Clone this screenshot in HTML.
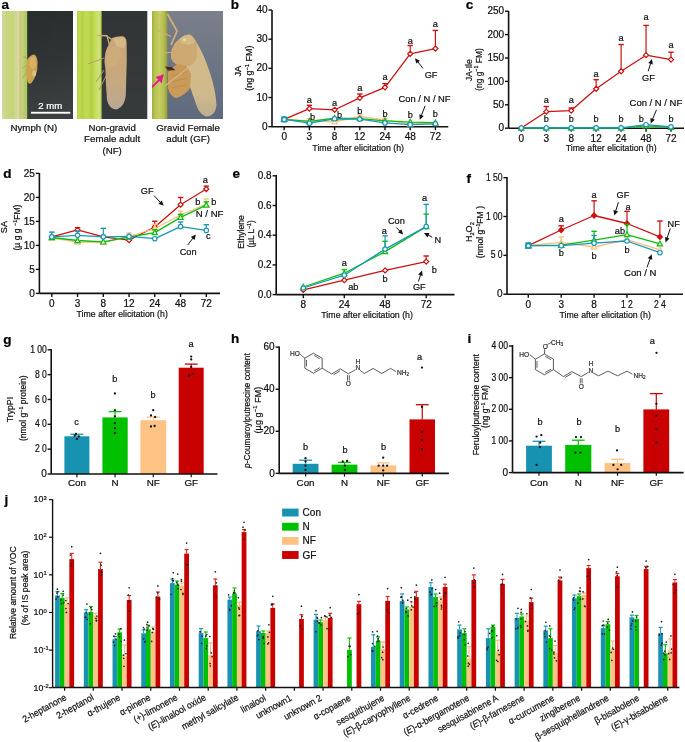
<!DOCTYPE html>
<html><head><meta charset="utf-8"><style>
html,body{margin:0;padding:0;background:#fff;width:685px;height:742px;overflow:hidden}
svg{display:block;will-change:transform}
text{font-family:"Liberation Sans", sans-serif}
</style></head><body>
<svg width="685" height="742" viewBox="0 0 685 742" font-family='"Liberation Sans", sans-serif' fill="#111">
<text x="1.5" y="9.3" font-size="13.5" font-weight="bold" fill="#000" stroke="#000" stroke-width="0.22">a</text>
<text x="230.8" y="9.1" font-size="13.5" font-weight="bold" fill="#000" stroke="#000" stroke-width="0.22">b</text>
<text x="465.8" y="9.3" font-size="13.5" font-weight="bold" fill="#000" stroke="#000" stroke-width="0.22">c</text>
<text x="3.2" y="178.1" font-size="13.5" font-weight="bold" fill="#000" stroke="#000" stroke-width="0.22">d</text>
<text x="232.4" y="177.6" font-size="13.5" font-weight="bold" fill="#000" stroke="#000" stroke-width="0.22">e</text>
<text x="466.5" y="182.6" font-size="13.5" font-weight="bold" fill="#000" stroke="#000" stroke-width="0.22">f</text>
<text x="3.2" y="344.2" font-size="13.5" font-weight="bold" fill="#000" stroke="#000" stroke-width="0.22">g</text>
<text x="231" y="343.1" font-size="13.5" font-weight="bold" fill="#000" stroke="#000" stroke-width="0.22">h</text>
<text x="467.6" y="342.6" font-size="13.5" font-weight="bold" fill="#000" stroke="#000" stroke-width="0.22">i</text>
<text x="4.6" y="504.2" font-size="13.5" font-weight="bold" fill="#000" stroke="#000" stroke-width="0.22">j</text>
<defs>
<linearGradient id="st1" x1="0" x2="1" y1="0" y2="0">
<stop offset="0" stop-color="#d2d9a2"/><stop offset="0.2" stop-color="#c9d67a"/><stop offset="0.45" stop-color="#c6d47c"/>
<stop offset="0.66" stop-color="#d8daa4"/><stop offset="0.72" stop-color="#d6bc74"/><stop offset="0.78" stop-color="#c6d284"/>
<stop offset="0.9" stop-color="#b2cc66"/><stop offset="1" stop-color="#a9c85c"/></linearGradient>
<linearGradient id="bg1" x1="0" x2="0.15" y1="0" y2="1">
<stop offset="0" stop-color="#292c2c"/><stop offset="0.5" stop-color="#303333"/><stop offset="1" stop-color="#3c3f3f"/></linearGradient>
<linearGradient id="st2" x1="0" x2="1" y1="0" y2="0">
<stop offset="0" stop-color="#b4d23e"/><stop offset="0.12" stop-color="#c2dc50"/><stop offset="0.2" stop-color="#b2ce42"/>
<stop offset="0.35" stop-color="#c4dc54"/><stop offset="0.5" stop-color="#bcd84c"/><stop offset="0.58" stop-color="#b2ce44"/>
<stop offset="0.75" stop-color="#c6de58"/><stop offset="0.9" stop-color="#cfe27e"/><stop offset="1" stop-color="#b8d44c"/></linearGradient>
<linearGradient id="bg2" x1="0" x2="0" y1="0" y2="1">
<stop offset="0" stop-color="#323535"/><stop offset="1" stop-color="#383b3b"/></linearGradient>
<linearGradient id="st3" x1="0" x2="1" y1="0" y2="0">
<stop offset="0" stop-color="#9fae3a"/><stop offset="0.2" stop-color="#b8c450"/><stop offset="0.5" stop-color="#c6cc64"/>
<stop offset="0.8" stop-color="#b2bc4a"/><stop offset="1" stop-color="#8d9840"/></linearGradient>
<linearGradient id="bg3" x1="0" x2="0" y1="0" y2="1">
<stop offset="0" stop-color="#7b8089"/><stop offset="0.5" stop-color="#6d7585"/><stop offset="1" stop-color="#5f6a7f"/></linearGradient>
<linearGradient id="wing2" x1="0" x2="0" y1="0" y2="1">
<stop offset="0" stop-color="#c9a676"/><stop offset="0.6" stop-color="#c8a87e"/><stop offset="1" stop-color="#b9a896"/></linearGradient>
<linearGradient id="wing3" x1="0" x2="0" y1="0" y2="1">
<stop offset="0" stop-color="#d6bb86"/><stop offset="0.7" stop-color="#d0b98c"/><stop offset="1" stop-color="#bcae90"/></linearGradient>
<clipPath id="cp1"><rect x="2" y="11" width="71" height="108"/></clipPath>
<clipPath id="cp2"><rect x="77" y="11" width="70.3" height="108"/></clipPath>
<clipPath id="cp3"><rect x="152" y="11" width="71" height="108"/></clipPath>
</defs>
<g clip-path="url(#cp1)">
<rect x="2" y="11" width="71" height="108" fill="url(#bg1)"/>
<rect x="2" y="11" width="25.2" height="108" fill="url(#st1)"/>
<line x1="27" y1="58" x2="23.5" y2="56.5" stroke="#c09850" stroke-width="0.9"/>
<line x1="26.5" y1="65" x2="22" y2="68.5" stroke="#c09850" stroke-width="0.9"/>
<line x1="27" y1="72" x2="22.5" y2="78" stroke="#c09850" stroke-width="0.9"/>
<path d="M27,60 Q30,55 34,54.5 Q37.2,56 37.6,62 L37.2,70 Q35.5,78 31.5,83 Q28.8,84.8 27.6,82 L26.2,74 L26.2,66 Z" fill="#cea24f"/>
<path d="M30,58 Q33,56 35.5,58 L36,66 L33,70 L29.5,66 Z" fill="#d8b266"/>
<ellipse cx="34.2" cy="73.5" rx="1.8" ry="3" fill="#e2c996" opacity="0.8"/>
<rect x="31" y="111.8" width="39.3" height="1.9" fill="#ffffff"/>
<text x="50.3" y="109.4" font-size="9.6" text-anchor="middle" fill="#ffffff" stroke="#ffffff" stroke-width="0.22">2 mm</text>
</g>
<g clip-path="url(#cp2)">
<rect x="77" y="11" width="71" height="108" fill="url(#bg2)"/>
<rect x="77" y="11" width="24.6" height="108" fill="url(#st2)"/>
<line x1="104" y1="58" x2="88" y2="64" stroke="#b8986c" stroke-width="0.9"/>
<line x1="104" y1="70" x2="96" y2="82" stroke="#b8986c" stroke-width="1"/>
<line x1="106" y1="76" x2="99" y2="90" stroke="#b8986c" stroke-width="1"/>
<path d="M112,38 Q117,35.8 123,36.3 Q126.6,37.6 126.6,43 L126.8,60 L126.2,80 L125.8,95 Q125,106 117,109.5 Q109,109.5 107,100 L106,85 L105.5,70 L104.5,62 Q104.5,52 108,46 Z" fill="url(#wing2)"/>
<path d="M113,38.5 Q118,36.5 123,37 Q126,38.5 125.8,44 L124,48 L117,47 Z" fill="#d6b887"/>
<path d="M107,50 L116,46 L122,52 L118,64 L109,68 L106,60 Z" fill="#d0ac7c" opacity="0.8"/>
<polyline points="97.5,35.5 107,35.8 109.5,45" fill="none" stroke="#c8a878" stroke-width="1.4"/>
<line x1="107.5" y1="36.5" x2="114" y2="41" stroke="#c8a878" stroke-width="1.3"/>
</g>
<g clip-path="url(#cp3)">
<rect x="152" y="11" width="71" height="108" fill="url(#bg3)"/>
<rect x="152" y="11" width="15.4" height="108" fill="url(#st3)"/>
<polyline points="167.5,14 177,31 171,45" fill="none" stroke="#cfae78" stroke-width="1.8"/>
<line x1="157" y1="30" x2="171" y2="36.5" stroke="#cfae78" stroke-width="1.3"/>
<line x1="164" y1="53" x2="174" y2="52" stroke="#cfae78" stroke-width="1.2"/>
<path d="M187,46 L195,40 Q203,52 209,70 Q216,90 216.5,106 Q214.5,116.8 206,116.6 Q199,114 196,104 L189,84 L185,60 Z" fill="url(#wing3)"/>
<path d="M171,52 Q173,43 180,38.5 Q185,33.8 190,34.6 Q195,37 196.5,44 L197.5,55 Q196,62 191,65.5 L180,66.5 Q173,63.5 171,58 Z" fill="#ccaa72"/>
<path d="M180,38.5 Q185,34.2 190,35 Q194,37.5 194.5,43 L188,45 L181,43 Z" fill="#d6b985"/>
<ellipse cx="184.5" cy="39.8" rx="1.6" ry="1.2" fill="#e8dcc0"/>
<path d="M168,72 Q172,66 180,64 Q188,66 191,74 L190,88 Q186,95 176,98.3 Q170,96 168,88 Z" fill="#c99a58"/>
<path d="M172,76 L186,72 M171,82 L188,78 M172,88 L186,85" stroke="#b88a4a" stroke-width="0.7" fill="none"/>
<line x1="165" y1="86" x2="188" y2="68" stroke="#d4b483" stroke-width="1.5"/>
<polygon points="165,66.5 172,67.3 175.4,70.2 168,70.4" fill="#4a2a1e"/>
<polygon points="163.9,74.2 155.8,77 161.6,83.6" fill="#e8198c"/>
<line x1="151.5" y1="87.5" x2="159.2" y2="80" stroke="#e8198c" stroke-width="1.8"/>
</g>
<text x="33.9" y="130.7" font-size="9.7" text-anchor="middle" stroke="#111" stroke-width="0.22">Nymph (N)</text>
<text x="112.1" y="130.7" font-size="9.7" text-anchor="middle" stroke="#111" stroke-width="0.22">Non-gravid</text>
<text x="112.1" y="142.2" font-size="9.7" text-anchor="middle" stroke="#111" stroke-width="0.22">Female adult</text>
<text x="112.1" y="153.6" font-size="9.7" text-anchor="middle" stroke="#111" stroke-width="0.22">(NF)</text>
<text x="188.1" y="130.7" font-size="9.7" text-anchor="middle" stroke="#111" stroke-width="0.22">Gravid Female</text>
<text x="188.1" y="142.2" font-size="9.7" text-anchor="middle" stroke="#111" stroke-width="0.22">adult (GF)</text>
<line x1="272" y1="10" x2="272" y2="126.7" stroke="#111" stroke-width="1.6"/>
<line x1="268.4" y1="126.7" x2="272" y2="126.7" stroke="#111" stroke-width="1.4"/>
<text x="267.5" y="129.8" font-size="10" text-anchor="end" stroke="#111" stroke-width="0.22">0</text>
<line x1="268.4" y1="97.53" x2="272" y2="97.53" stroke="#111" stroke-width="1.4"/>
<text x="267.5" y="100.63" font-size="10" text-anchor="end" stroke="#111" stroke-width="0.22">10</text>
<line x1="268.4" y1="68.36" x2="272" y2="68.36" stroke="#111" stroke-width="1.4"/>
<text x="267.5" y="71.46" font-size="10" text-anchor="end" stroke="#111" stroke-width="0.22">20</text>
<line x1="268.4" y1="39.19" x2="272" y2="39.19" stroke="#111" stroke-width="1.4"/>
<text x="267.5" y="42.29" font-size="10" text-anchor="end" stroke="#111" stroke-width="0.22">30</text>
<line x1="268.4" y1="10.02" x2="272" y2="10.02" stroke="#111" stroke-width="1.4"/>
<text x="267.5" y="13.12" font-size="10" text-anchor="end" stroke="#111" stroke-width="0.22">40</text>
<line x1="272" y1="126.7" x2="448.3" y2="126.7" stroke="#111" stroke-width="1.6"/>
<line x1="284.2" y1="126.7" x2="284.2" y2="130.3" stroke="#111" stroke-width="1.4"/>
<text x="284.2" y="140" font-size="10" text-anchor="middle" stroke="#111" stroke-width="0.22">0</text>
<line x1="309.4" y1="126.7" x2="309.4" y2="130.3" stroke="#111" stroke-width="1.4"/>
<text x="309.4" y="140" font-size="10" text-anchor="middle" stroke="#111" stroke-width="0.22">3</text>
<line x1="334.6" y1="126.7" x2="334.6" y2="130.3" stroke="#111" stroke-width="1.4"/>
<text x="334.6" y="140" font-size="10" text-anchor="middle" stroke="#111" stroke-width="0.22">8</text>
<line x1="359.8" y1="126.7" x2="359.8" y2="130.3" stroke="#111" stroke-width="1.4"/>
<text x="359.8" y="140" font-size="10" text-anchor="middle" stroke="#111" stroke-width="0.22">12</text>
<line x1="385" y1="126.7" x2="385" y2="130.3" stroke="#111" stroke-width="1.4"/>
<text x="385" y="140" font-size="10" text-anchor="middle" stroke="#111" stroke-width="0.22">24</text>
<line x1="410.2" y1="126.7" x2="410.2" y2="130.3" stroke="#111" stroke-width="1.4"/>
<text x="410.2" y="140" font-size="10" text-anchor="middle" stroke="#111" stroke-width="0.22">48</text>
<line x1="435.4" y1="126.7" x2="435.4" y2="130.3" stroke="#111" stroke-width="1.4"/>
<text x="435.4" y="140" font-size="10" text-anchor="middle" stroke="#111" stroke-width="0.22">72</text>
<text x="358.2" y="150.6" font-size="9.6" text-anchor="middle" stroke="#111" stroke-width="0.22" textLength="91.7" lengthAdjust="spacingAndGlyphs">Time after elicitation (h)</text>
<polyline points="284.2,119.41 309.4,108.61 334.6,109.78 359.8,97.82 385,87.32 410.2,53.78 435.4,48.52" stroke="#cc1111" fill="none" stroke-width="1.3" stroke-linejoin="round"/>
<line x1="309.4" y1="108.61" x2="309.4" y2="105.3" stroke="#cc1111" stroke-width="1.2"/>
<line x1="306.7" y1="105.3" x2="312.1" y2="105.3" stroke="#cc1111" stroke-width="1.4"/>
<line x1="359.8" y1="97.82" x2="359.8" y2="94" stroke="#cc1111" stroke-width="1.2"/>
<line x1="357.1" y1="94" x2="362.5" y2="94" stroke="#cc1111" stroke-width="1.4"/>
<line x1="385" y1="87.32" x2="385" y2="83.6" stroke="#cc1111" stroke-width="1.2"/>
<line x1="382.3" y1="83.6" x2="387.7" y2="83.6" stroke="#cc1111" stroke-width="1.4"/>
<line x1="410.2" y1="53.78" x2="410.2" y2="45.5" stroke="#cc1111" stroke-width="1.2"/>
<line x1="407.5" y1="45.5" x2="412.9" y2="45.5" stroke="#cc1111" stroke-width="1.4"/>
<line x1="435.4" y1="48.52" x2="435.4" y2="30.4" stroke="#cc1111" stroke-width="1.2"/>
<line x1="432.7" y1="30.4" x2="438.1" y2="30.4" stroke="#cc1111" stroke-width="1.4"/>
<polygon points="284.2,116.88 286.73,119.41 284.2,121.94 281.67,119.41" fill="#fff" stroke="#cc1111" stroke-width="1.2"/>
<polygon points="309.4,106.08 311.93,108.61 309.4,111.14 306.87,108.61" fill="#fff" stroke="#cc1111" stroke-width="1.2"/>
<polygon points="334.6,107.25 337.13,109.78 334.6,112.31 332.07,109.78" fill="#fff" stroke="#cc1111" stroke-width="1.2"/>
<polygon points="359.8,95.29 362.33,97.82 359.8,100.35 357.27,97.82" fill="#fff" stroke="#cc1111" stroke-width="1.2"/>
<polygon points="385,84.79 387.53,87.32 385,89.85 382.47,87.32" fill="#fff" stroke="#cc1111" stroke-width="1.2"/>
<polygon points="410.2,51.25 412.73,53.78 410.2,56.31 407.67,53.78" fill="#fff" stroke="#cc1111" stroke-width="1.2"/>
<polygon points="435.4,45.99 437.93,48.52 435.4,51.05 432.87,48.52" fill="#fff" stroke="#cc1111" stroke-width="1.2"/>
<polyline points="284.2,119.41 309.4,120.87 334.6,121.74 359.8,116.49 385,119.99 410.2,123.78 435.4,123.2" stroke="#fdbf85" fill="none" stroke-width="1.3" stroke-linejoin="round"/>
<line x1="309.4" y1="120.87" x2="309.4" y2="118.53" stroke="#fdbf85" stroke-width="1.2"/>
<line x1="306.7" y1="118.53" x2="312.1" y2="118.53" stroke="#fdbf85" stroke-width="1.4"/>
<line x1="359.8" y1="116.49" x2="359.8" y2="114.45" stroke="#fdbf85" stroke-width="1.2"/>
<line x1="357.1" y1="114.45" x2="362.5" y2="114.45" stroke="#fdbf85" stroke-width="1.4"/>
<line x1="385" y1="119.99" x2="385" y2="118.24" stroke="#fdbf85" stroke-width="1.2"/>
<line x1="382.3" y1="118.24" x2="387.7" y2="118.24" stroke="#fdbf85" stroke-width="1.4"/>
<polygon points="284.2,116.77 286.84,121.52 281.56,121.52" fill="#fff" stroke="#fdbf85" stroke-width="1.2"/>
<polygon points="309.4,118.23 312.04,122.98 306.76,122.98" fill="#fff" stroke="#fdbf85" stroke-width="1.2"/>
<polygon points="334.6,119.1 337.24,123.85 331.96,123.85" fill="#fff" stroke="#fdbf85" stroke-width="1.2"/>
<polygon points="359.8,113.85 362.44,118.6 357.16,118.6" fill="#fff" stroke="#fdbf85" stroke-width="1.2"/>
<polygon points="385,117.35 387.64,122.1 382.36,122.1" fill="#fff" stroke="#fdbf85" stroke-width="1.2"/>
<polygon points="410.2,121.14 412.84,125.89 407.56,125.89" fill="#fff" stroke="#fdbf85" stroke-width="1.2"/>
<polygon points="435.4,120.56 438.04,125.31 432.76,125.31" fill="#fff" stroke="#fdbf85" stroke-width="1.2"/>
<polyline points="284.2,119.41 309.4,121.45 334.6,118.24 359.8,118.53 385,120.87 410.2,122.03 435.4,122.62" stroke="#0cbf0c" fill="none" stroke-width="1.3" stroke-linejoin="round"/>
<polygon points="284.2,116.77 286.84,121.52 281.56,121.52" fill="#fff" stroke="#0cbf0c" stroke-width="1.2"/>
<polygon points="309.4,118.81 312.04,123.56 306.76,123.56" fill="#fff" stroke="#0cbf0c" stroke-width="1.2"/>
<polygon points="334.6,115.6 337.24,120.35 331.96,120.35" fill="#fff" stroke="#0cbf0c" stroke-width="1.2"/>
<polygon points="359.8,115.89 362.44,120.64 357.16,120.64" fill="#fff" stroke="#0cbf0c" stroke-width="1.2"/>
<polygon points="385,118.23 387.64,122.98 382.36,122.98" fill="#fff" stroke="#0cbf0c" stroke-width="1.2"/>
<polygon points="410.2,119.39 412.84,124.14 407.56,124.14" fill="#fff" stroke="#0cbf0c" stroke-width="1.2"/>
<polygon points="435.4,119.98 438.04,124.73 432.76,124.73" fill="#fff" stroke="#0cbf0c" stroke-width="1.2"/>
<polyline points="284.2,119.41 309.4,123.2 334.6,118.82 359.8,119.12 385,122.91 410.2,124.66 435.4,123.78" stroke="#1b97b6" fill="none" stroke-width="1.3" stroke-linejoin="round"/>
<circle cx="284.2" cy="119.41" r="2.2" fill="#fff" stroke="#1b97b6" stroke-width="1.2"/>
<circle cx="309.4" cy="123.2" r="2.2" fill="#fff" stroke="#1b97b6" stroke-width="1.2"/>
<circle cx="334.6" cy="118.82" r="2.2" fill="#fff" stroke="#1b97b6" stroke-width="1.2"/>
<circle cx="359.8" cy="119.12" r="2.2" fill="#fff" stroke="#1b97b6" stroke-width="1.2"/>
<circle cx="385" cy="122.91" r="2.2" fill="#fff" stroke="#1b97b6" stroke-width="1.2"/>
<circle cx="410.2" cy="124.66" r="2.2" fill="#fff" stroke="#1b97b6" stroke-width="1.2"/>
<circle cx="435.4" cy="123.78" r="2.2" fill="#fff" stroke="#1b97b6" stroke-width="1.2"/>
<rect x="281.2" y="116.41" width="6" height="6" fill="#1b97b6"/>
<circle cx="284.2" cy="119.4075" r="1.5" fill="#fff"/>
<text x="309.4" y="103.1" font-size="9.2" text-anchor="middle" stroke="#111" stroke-width="0.22">a</text>
<text x="334.6" y="106.4" font-size="9.2" text-anchor="middle" stroke="#111" stroke-width="0.22">a</text>
<text x="359.8" y="90.5" font-size="9.2" text-anchor="middle" stroke="#111" stroke-width="0.22">a</text>
<text x="385" y="79.6" font-size="9.2" text-anchor="middle" stroke="#111" stroke-width="0.22">a</text>
<text x="410.2" y="43.9" font-size="9.2" text-anchor="middle" stroke="#111" stroke-width="0.22">a</text>
<text x="435.4" y="27.2" font-size="9.2" text-anchor="middle" stroke="#111" stroke-width="0.22">a</text>
<text x="312.6" y="119.9" font-size="9.2" text-anchor="middle" stroke="#111" stroke-width="0.22">b</text>
<text x="339.6" y="118" font-size="9.2" text-anchor="middle" stroke="#111" stroke-width="0.22">b</text>
<text x="359.8" y="113.8" font-size="9.2" text-anchor="middle" stroke="#111" stroke-width="0.22">b</text>
<text x="385" y="117" font-size="9.2" text-anchor="middle" stroke="#111" stroke-width="0.22">b</text>
<text x="410.2" y="117.5" font-size="9.2" text-anchor="middle" stroke="#111" stroke-width="0.22">b</text>
<text x="435.4" y="117" font-size="9.2" text-anchor="middle" stroke="#111" stroke-width="0.22">b</text>
<text x="424.7" y="77.9" font-size="9.2" stroke="#111" stroke-width="0.22">GF</text>
<line x1="423" y1="68.4" x2="417.78" y2="61.74" stroke="#111" stroke-width="1"/>
<polygon points="415,58.2 419.97,60.65 416.2,63.62" fill="#111"/>
<text x="398.6" y="102.1" font-size="9.2" stroke="#111" stroke-width="0.22" textLength="52" lengthAdjust="spacingAndGlyphs">Con / N / NF</text>
<line x1="425.1" y1="105.8" x2="421.4" y2="115.5" stroke="#111" stroke-width="1"/>
<polygon points="419.8,119.7 419.34,114.17 423.82,115.88" fill="#111"/>
<text x="240.8" y="71.2" font-size="8.6" text-anchor="middle" stroke="#111" stroke-width="0.22" transform="rotate(-90 240.8 71.2)" textLength="10.8" lengthAdjust="spacingAndGlyphs">JA</text>
<text x="252.1" y="68.2" font-size="9" text-anchor="middle" stroke="#111" stroke-width="0.22" transform="rotate(-90 252.1 68.2)" textLength="45.2" lengthAdjust="spacingAndGlyphs">(ng g<tspan dy="-3.4" font-size="5.8">−1</tspan><tspan dy="3.4"> FM)</tspan></text>
<line x1="508.6" y1="11" x2="508.6" y2="128.2" stroke="#111" stroke-width="1.6"/>
<line x1="505" y1="128.2" x2="508.6" y2="128.2" stroke="#111" stroke-width="1.4"/>
<text x="504.1" y="131.3" font-size="10" text-anchor="end" stroke="#111" stroke-width="0.22">0</text>
<line x1="505" y1="104.8" x2="508.6" y2="104.8" stroke="#111" stroke-width="1.4"/>
<text x="504.1" y="107.9" font-size="10" text-anchor="end" stroke="#111" stroke-width="0.22">50</text>
<line x1="505" y1="81.4" x2="508.6" y2="81.4" stroke="#111" stroke-width="1.4"/>
<text x="504.1" y="84.5" font-size="10" text-anchor="end" stroke="#111" stroke-width="0.22">100</text>
<line x1="505" y1="58" x2="508.6" y2="58" stroke="#111" stroke-width="1.4"/>
<text x="504.1" y="61.1" font-size="10" text-anchor="end" stroke="#111" stroke-width="0.22">150</text>
<line x1="505" y1="34.6" x2="508.6" y2="34.6" stroke="#111" stroke-width="1.4"/>
<text x="504.1" y="37.7" font-size="10" text-anchor="end" stroke="#111" stroke-width="0.22">200</text>
<line x1="505" y1="11.2" x2="508.6" y2="11.2" stroke="#111" stroke-width="1.4"/>
<text x="504.1" y="14.3" font-size="10" text-anchor="end" stroke="#111" stroke-width="0.22">250</text>
<line x1="508.6" y1="128.2" x2="684" y2="128.2" stroke="#111" stroke-width="1.6"/>
<line x1="521.3" y1="128.2" x2="521.3" y2="131.8" stroke="#111" stroke-width="1.4"/>
<text x="521.3" y="141.5" font-size="10" text-anchor="middle" stroke="#111" stroke-width="0.22">0</text>
<line x1="546.25" y1="128.2" x2="546.25" y2="131.8" stroke="#111" stroke-width="1.4"/>
<text x="546.25" y="141.5" font-size="10" text-anchor="middle" stroke="#111" stroke-width="0.22">3</text>
<line x1="571.2" y1="128.2" x2="571.2" y2="131.8" stroke="#111" stroke-width="1.4"/>
<text x="571.2" y="141.5" font-size="10" text-anchor="middle" stroke="#111" stroke-width="0.22">8</text>
<line x1="596.15" y1="128.2" x2="596.15" y2="131.8" stroke="#111" stroke-width="1.4"/>
<text x="596.15" y="141.5" font-size="10" text-anchor="middle" stroke="#111" stroke-width="0.22">12</text>
<line x1="621.1" y1="128.2" x2="621.1" y2="131.8" stroke="#111" stroke-width="1.4"/>
<text x="621.1" y="141.5" font-size="10" text-anchor="middle" stroke="#111" stroke-width="0.22">24</text>
<line x1="646.05" y1="128.2" x2="646.05" y2="131.8" stroke="#111" stroke-width="1.4"/>
<text x="646.05" y="141.5" font-size="10" text-anchor="middle" stroke="#111" stroke-width="0.22">48</text>
<line x1="671" y1="128.2" x2="671" y2="131.8" stroke="#111" stroke-width="1.4"/>
<text x="671" y="141.5" font-size="10" text-anchor="middle" stroke="#111" stroke-width="0.22">72</text>
<text x="611.2" y="150.7" font-size="9.6" text-anchor="middle" stroke="#111" stroke-width="0.22" textLength="90.7" lengthAdjust="spacingAndGlyphs">Time after elicitation (h)</text>
<polyline points="521.3,128.01 546.25,111.68 571.2,110.6 596.15,88.79 621.1,71.29 646.05,55.19 671,59.59" stroke="#cc1111" fill="none" stroke-width="1.3" stroke-linejoin="round"/>
<line x1="546.25" y1="111.68" x2="546.25" y2="106.5" stroke="#cc1111" stroke-width="1.2"/>
<line x1="543.55" y1="106.5" x2="548.95" y2="106.5" stroke="#cc1111" stroke-width="1.4"/>
<line x1="571.2" y1="110.6" x2="571.2" y2="108" stroke="#cc1111" stroke-width="1.2"/>
<line x1="568.5" y1="108" x2="573.9" y2="108" stroke="#cc1111" stroke-width="1.4"/>
<line x1="596.15" y1="88.79" x2="596.15" y2="79.7" stroke="#cc1111" stroke-width="1.2"/>
<line x1="593.45" y1="79.7" x2="598.85" y2="79.7" stroke="#cc1111" stroke-width="1.4"/>
<line x1="621.1" y1="71.29" x2="621.1" y2="44.5" stroke="#cc1111" stroke-width="1.2"/>
<line x1="618.4" y1="44.5" x2="623.8" y2="44.5" stroke="#cc1111" stroke-width="1.4"/>
<line x1="646.05" y1="55.19" x2="646.05" y2="25.4" stroke="#cc1111" stroke-width="1.2"/>
<line x1="643.35" y1="25.4" x2="648.75" y2="25.4" stroke="#cc1111" stroke-width="1.4"/>
<line x1="671" y1="59.59" x2="671" y2="52.2" stroke="#cc1111" stroke-width="1.2"/>
<line x1="668.3" y1="52.2" x2="673.7" y2="52.2" stroke="#cc1111" stroke-width="1.4"/>
<polygon points="521.3,125.48 523.83,128.01 521.3,130.54 518.77,128.01" fill="#fff" stroke="#cc1111" stroke-width="1.2"/>
<polygon points="546.25,109.15 548.78,111.68 546.25,114.21 543.72,111.68" fill="#fff" stroke="#cc1111" stroke-width="1.2"/>
<polygon points="571.2,108.07 573.73,110.6 571.2,113.13 568.67,110.6" fill="#fff" stroke="#cc1111" stroke-width="1.2"/>
<polygon points="596.15,86.26 598.68,88.79 596.15,91.32 593.62,88.79" fill="#fff" stroke="#cc1111" stroke-width="1.2"/>
<polygon points="621.1,68.76 623.63,71.29 621.1,73.82 618.57,71.29" fill="#fff" stroke="#cc1111" stroke-width="1.2"/>
<polygon points="646.05,52.66 648.58,55.19 646.05,57.72 643.52,55.19" fill="#fff" stroke="#cc1111" stroke-width="1.2"/>
<polygon points="671,57.06 673.53,59.59 671,62.12 668.47,59.59" fill="#fff" stroke="#cc1111" stroke-width="1.2"/>
<polyline points="521.3,128.06 546.25,128.06 571.2,128.06 596.15,128.06 621.1,128.06 646.05,125.86 671,127.26" stroke="#0cbf0c" fill="none" stroke-width="1.3" stroke-linejoin="round"/>
<polygon points="521.3,125.42 523.94,130.17 518.66,130.17" fill="#fff" stroke="#0cbf0c" stroke-width="1.2"/>
<polygon points="546.25,125.42 548.89,130.17 543.61,130.17" fill="#fff" stroke="#0cbf0c" stroke-width="1.2"/>
<polygon points="571.2,125.42 573.84,130.17 568.56,130.17" fill="#fff" stroke="#0cbf0c" stroke-width="1.2"/>
<polygon points="596.15,125.42 598.79,130.17 593.51,130.17" fill="#fff" stroke="#0cbf0c" stroke-width="1.2"/>
<polygon points="621.1,125.42 623.74,130.17 618.46,130.17" fill="#fff" stroke="#0cbf0c" stroke-width="1.2"/>
<polygon points="646.05,123.22 648.69,127.97 643.41,127.97" fill="#fff" stroke="#0cbf0c" stroke-width="1.2"/>
<polygon points="671,124.62 673.64,129.38 668.36,129.38" fill="#fff" stroke="#0cbf0c" stroke-width="1.2"/>
<polyline points="521.3,127.97 546.25,127.97 571.2,127.73 596.15,127.83 621.1,127.83 646.05,124.69 671,126.8" stroke="#1b97b6" fill="none" stroke-width="1.3" stroke-linejoin="round"/>
<circle cx="521.3" cy="127.97" r="2.2" fill="#fff" stroke="#1b97b6" stroke-width="1.2"/>
<circle cx="546.25" cy="127.97" r="2.2" fill="#fff" stroke="#1b97b6" stroke-width="1.2"/>
<circle cx="571.2" cy="127.73" r="2.2" fill="#fff" stroke="#1b97b6" stroke-width="1.2"/>
<circle cx="596.15" cy="127.83" r="2.2" fill="#fff" stroke="#1b97b6" stroke-width="1.2"/>
<circle cx="621.1" cy="127.83" r="2.2" fill="#fff" stroke="#1b97b6" stroke-width="1.2"/>
<circle cx="646.05" cy="124.69" r="2.2" fill="#fff" stroke="#1b97b6" stroke-width="1.2"/>
<circle cx="671" cy="126.8" r="2.2" fill="#fff" stroke="#1b97b6" stroke-width="1.2"/>
<text x="546.25" y="102.8" font-size="9.2" text-anchor="middle" stroke="#111" stroke-width="0.22">a</text>
<text x="571.2" y="102.8" font-size="9.2" text-anchor="middle" stroke="#111" stroke-width="0.22">a</text>
<text x="596.15" y="76.6" font-size="9.2" text-anchor="middle" stroke="#111" stroke-width="0.22">a</text>
<text x="621.1" y="41.2" font-size="9.2" text-anchor="middle" stroke="#111" stroke-width="0.22">a</text>
<text x="646.05" y="19.6" font-size="9.2" text-anchor="middle" stroke="#111" stroke-width="0.22">a</text>
<text x="671" y="48.2" font-size="9.2" text-anchor="middle" stroke="#111" stroke-width="0.22">a</text>
<text x="546.25" y="122.1" font-size="9.2" text-anchor="middle" stroke="#111" stroke-width="0.22">b</text>
<text x="571.2" y="122.1" font-size="9.2" text-anchor="middle" stroke="#111" stroke-width="0.22">b</text>
<text x="596.15" y="121.8" font-size="9.2" text-anchor="middle" stroke="#111" stroke-width="0.22">b</text>
<text x="621.1" y="121.6" font-size="9.2" text-anchor="middle" stroke="#111" stroke-width="0.22">b</text>
<text x="641.2" y="121.6" font-size="9.2" text-anchor="middle" stroke="#111" stroke-width="0.22">b</text>
<text x="671" y="121.6" font-size="9.2" text-anchor="middle" stroke="#111" stroke-width="0.22">b</text>
<text x="642" y="81" font-size="9.2" stroke="#111" stroke-width="0.22">GF</text>
<line x1="648.2" y1="71.3" x2="650.67" y2="63.3" stroke="#111" stroke-width="1"/>
<polygon points="652,59 652.82,64.49 648.23,63.07" fill="#111"/>
<text x="629.6" y="106.3" font-size="9.2" stroke="#111" stroke-width="0.22" textLength="52.6" lengthAdjust="spacingAndGlyphs">Con / N / NF</text>
<line x1="656.5" y1="109.8" x2="652.45" y2="119.36" stroke="#111" stroke-width="1"/>
<polygon points="650.7,123.5 650.44,117.96 654.86,119.83" fill="#111"/>
<text x="472.3" y="70.2" font-size="9.2" text-anchor="middle" stroke="#111" stroke-width="0.22" transform="rotate(-90 472.3 70.2)" textLength="22.2" lengthAdjust="spacingAndGlyphs">JA-Ile</text>
<text x="481.8" y="69.55" font-size="9" text-anchor="middle" stroke="#111" stroke-width="0.22" transform="rotate(-90 481.8 69.55)" textLength="42.5" lengthAdjust="spacingAndGlyphs">(ng g<tspan dy="-3.4" font-size="5.8">−1</tspan><tspan dy="3.4"> FM)</tspan></text>
<line x1="39.4" y1="173" x2="39.4" y2="293.4" stroke="#111" stroke-width="1.6"/>
<line x1="35.8" y1="293.4" x2="39.4" y2="293.4" stroke="#111" stroke-width="1.4"/>
<text x="34.9" y="296.5" font-size="10" text-anchor="end" stroke="#111" stroke-width="0.22">0</text>
<line x1="35.8" y1="269.4" x2="39.4" y2="269.4" stroke="#111" stroke-width="1.4"/>
<text x="34.9" y="272.5" font-size="10" text-anchor="end" stroke="#111" stroke-width="0.22">5</text>
<line x1="35.8" y1="245.4" x2="39.4" y2="245.4" stroke="#111" stroke-width="1.4"/>
<text x="34.9" y="248.5" font-size="10" text-anchor="end" stroke="#111" stroke-width="0.22">10</text>
<line x1="35.8" y1="221.4" x2="39.4" y2="221.4" stroke="#111" stroke-width="1.4"/>
<text x="34.9" y="224.5" font-size="10" text-anchor="end" stroke="#111" stroke-width="0.22">15</text>
<line x1="35.8" y1="197.4" x2="39.4" y2="197.4" stroke="#111" stroke-width="1.4"/>
<text x="34.9" y="200.5" font-size="10" text-anchor="end" stroke="#111" stroke-width="0.22">20</text>
<line x1="35.8" y1="173.4" x2="39.4" y2="173.4" stroke="#111" stroke-width="1.4"/>
<text x="34.9" y="176.5" font-size="10" text-anchor="end" stroke="#111" stroke-width="0.22">25</text>
<line x1="39.4" y1="293.4" x2="220" y2="293.4" stroke="#111" stroke-width="1.6"/>
<line x1="51.8" y1="293.4" x2="51.8" y2="297" stroke="#111" stroke-width="1.4"/>
<text x="51.8" y="306.7" font-size="10" text-anchor="middle" stroke="#111" stroke-width="0.22">0</text>
<line x1="77.55" y1="293.4" x2="77.55" y2="297" stroke="#111" stroke-width="1.4"/>
<text x="77.55" y="306.7" font-size="10" text-anchor="middle" stroke="#111" stroke-width="0.22">3</text>
<line x1="103.3" y1="293.4" x2="103.3" y2="297" stroke="#111" stroke-width="1.4"/>
<text x="103.3" y="306.7" font-size="10" text-anchor="middle" stroke="#111" stroke-width="0.22">8</text>
<line x1="129.05" y1="293.4" x2="129.05" y2="297" stroke="#111" stroke-width="1.4"/>
<text x="129.05" y="306.7" font-size="10" text-anchor="middle" stroke="#111" stroke-width="0.22">12</text>
<line x1="154.8" y1="293.4" x2="154.8" y2="297" stroke="#111" stroke-width="1.4"/>
<text x="154.8" y="306.7" font-size="10" text-anchor="middle" stroke="#111" stroke-width="0.22">24</text>
<line x1="180.55" y1="293.4" x2="180.55" y2="297" stroke="#111" stroke-width="1.4"/>
<text x="180.55" y="306.7" font-size="10" text-anchor="middle" stroke="#111" stroke-width="0.22">48</text>
<line x1="206.3" y1="293.4" x2="206.3" y2="297" stroke="#111" stroke-width="1.4"/>
<text x="206.3" y="306.7" font-size="10" text-anchor="middle" stroke="#111" stroke-width="0.22">72</text>
<text x="122.2" y="316.9" font-size="9.6" text-anchor="middle" stroke="#111" stroke-width="0.22" textLength="91.3" lengthAdjust="spacingAndGlyphs">Time after elicitation (h)</text>
<polyline points="51.8,236.8 77.55,229.9 103.3,236.8 129.05,240.2 154.8,227 180.55,204.7 206.3,189" stroke="#cc1111" fill="none" stroke-width="1.3" stroke-linejoin="round"/>
<line x1="77.55" y1="229.9" x2="77.55" y2="227.7" stroke="#cc1111" stroke-width="1.2"/>
<line x1="74.85" y1="227.7" x2="80.25" y2="227.7" stroke="#cc1111" stroke-width="1.4"/>
<line x1="154.8" y1="227" x2="154.8" y2="221.2" stroke="#cc1111" stroke-width="1.2"/>
<line x1="152.1" y1="221.2" x2="157.5" y2="221.2" stroke="#cc1111" stroke-width="1.4"/>
<line x1="180.55" y1="204.7" x2="180.55" y2="197.5" stroke="#cc1111" stroke-width="1.2"/>
<line x1="177.85" y1="197.5" x2="183.25" y2="197.5" stroke="#cc1111" stroke-width="1.4"/>
<line x1="206.3" y1="189" x2="206.3" y2="186.1" stroke="#cc1111" stroke-width="1.2"/>
<line x1="203.6" y1="186.1" x2="209" y2="186.1" stroke="#cc1111" stroke-width="1.4"/>
<polygon points="51.8,234.27 54.33,236.8 51.8,239.33 49.27,236.8" fill="#fff" stroke="#cc1111" stroke-width="1.2"/>
<polygon points="77.55,227.37 80.08,229.9 77.55,232.43 75.02,229.9" fill="#fff" stroke="#cc1111" stroke-width="1.2"/>
<polygon points="103.3,234.27 105.83,236.8 103.3,239.33 100.77,236.8" fill="#fff" stroke="#cc1111" stroke-width="1.2"/>
<polygon points="129.05,237.67 131.58,240.2 129.05,242.73 126.52,240.2" fill="#fff" stroke="#cc1111" stroke-width="1.2"/>
<polygon points="154.8,224.47 157.33,227 154.8,229.53 152.27,227" fill="#fff" stroke="#cc1111" stroke-width="1.2"/>
<polygon points="180.55,202.17 183.08,204.7 180.55,207.23 178.02,204.7" fill="#fff" stroke="#cc1111" stroke-width="1.2"/>
<polygon points="206.3,186.47 208.83,189 206.3,191.53 203.77,189" fill="#fff" stroke="#cc1111" stroke-width="1.2"/>
<polyline points="51.8,238 77.55,242 103.3,242.5 129.05,236.5 154.8,228.5 180.55,215 206.3,204.2" stroke="#fdbf85" fill="none" stroke-width="1.3" stroke-linejoin="round"/>
<line x1="129.05" y1="236.5" x2="129.05" y2="233" stroke="#fdbf85" stroke-width="1.2"/>
<line x1="126.35" y1="233" x2="131.75" y2="233" stroke="#fdbf85" stroke-width="1.4"/>
<line x1="154.8" y1="228.5" x2="154.8" y2="224.5" stroke="#fdbf85" stroke-width="1.2"/>
<line x1="152.1" y1="224.5" x2="157.5" y2="224.5" stroke="#fdbf85" stroke-width="1.4"/>
<line x1="180.55" y1="215" x2="180.55" y2="211.1" stroke="#fdbf85" stroke-width="1.2"/>
<line x1="177.85" y1="211.1" x2="183.25" y2="211.1" stroke="#fdbf85" stroke-width="1.4"/>
<line x1="206.3" y1="204.2" x2="206.3" y2="199" stroke="#fdbf85" stroke-width="1.2"/>
<line x1="203.6" y1="199" x2="209" y2="199" stroke="#fdbf85" stroke-width="1.4"/>
<polygon points="51.8,235.36 54.44,240.11 49.16,240.11" fill="#fff" stroke="#fdbf85" stroke-width="1.2"/>
<polygon points="77.55,239.36 80.19,244.11 74.91,244.11" fill="#fff" stroke="#fdbf85" stroke-width="1.2"/>
<polygon points="103.3,239.86 105.94,244.61 100.66,244.61" fill="#fff" stroke="#fdbf85" stroke-width="1.2"/>
<polygon points="129.05,233.86 131.69,238.61 126.41,238.61" fill="#fff" stroke="#fdbf85" stroke-width="1.2"/>
<polygon points="154.8,225.86 157.44,230.61 152.16,230.61" fill="#fff" stroke="#fdbf85" stroke-width="1.2"/>
<polygon points="180.55,212.36 183.19,217.11 177.91,217.11" fill="#fff" stroke="#fdbf85" stroke-width="1.2"/>
<polygon points="206.3,201.56 208.94,206.31 203.66,206.31" fill="#fff" stroke="#fdbf85" stroke-width="1.2"/>
<polyline points="51.8,237.5 77.55,240.5 103.3,241.9 129.05,237 154.8,232.6 180.55,217.4 206.3,205.1" stroke="#0cbf0c" fill="none" stroke-width="1.3" stroke-linejoin="round"/>
<line x1="154.8" y1="232.6" x2="154.8" y2="229.6" stroke="#0cbf0c" stroke-width="1.2"/>
<line x1="152.1" y1="229.6" x2="157.5" y2="229.6" stroke="#0cbf0c" stroke-width="1.4"/>
<line x1="180.55" y1="217.4" x2="180.55" y2="214.4" stroke="#0cbf0c" stroke-width="1.2"/>
<line x1="177.85" y1="214.4" x2="183.25" y2="214.4" stroke="#0cbf0c" stroke-width="1.4"/>
<line x1="206.3" y1="205.1" x2="206.3" y2="201.8" stroke="#0cbf0c" stroke-width="1.2"/>
<line x1="203.6" y1="201.8" x2="209" y2="201.8" stroke="#0cbf0c" stroke-width="1.4"/>
<polygon points="51.8,234.86 54.44,239.61 49.16,239.61" fill="#fff" stroke="#0cbf0c" stroke-width="1.2"/>
<polygon points="77.55,237.86 80.19,242.61 74.91,242.61" fill="#fff" stroke="#0cbf0c" stroke-width="1.2"/>
<polygon points="103.3,239.26 105.94,244.01 100.66,244.01" fill="#fff" stroke="#0cbf0c" stroke-width="1.2"/>
<polygon points="129.05,234.36 131.69,239.11 126.41,239.11" fill="#fff" stroke="#0cbf0c" stroke-width="1.2"/>
<polygon points="154.8,229.96 157.44,234.71 152.16,234.71" fill="#fff" stroke="#0cbf0c" stroke-width="1.2"/>
<polygon points="180.55,214.76 183.19,219.51 177.91,219.51" fill="#fff" stroke="#0cbf0c" stroke-width="1.2"/>
<polygon points="206.3,202.46 208.94,207.21 203.66,207.21" fill="#fff" stroke="#0cbf0c" stroke-width="1.2"/>
<polyline points="51.8,236.8 77.55,235.3 103.3,236.8 129.05,236.4 154.8,238.7 180.55,226.6 206.3,230.4" stroke="#1b97b6" fill="none" stroke-width="1.3" stroke-linejoin="round"/>
<line x1="51.8" y1="236.8" x2="51.8" y2="232.1" stroke="#1b97b6" stroke-width="1.2"/>
<line x1="49.1" y1="232.1" x2="54.5" y2="232.1" stroke="#1b97b6" stroke-width="1.4"/>
<line x1="77.55" y1="235.3" x2="77.55" y2="231" stroke="#1b97b6" stroke-width="1.2"/>
<line x1="74.85" y1="231" x2="80.25" y2="231" stroke="#1b97b6" stroke-width="1.4"/>
<line x1="103.3" y1="236.8" x2="103.3" y2="228.3" stroke="#1b97b6" stroke-width="1.2"/>
<line x1="100.6" y1="228.3" x2="106" y2="228.3" stroke="#1b97b6" stroke-width="1.4"/>
<line x1="180.55" y1="226.6" x2="180.55" y2="222" stroke="#1b97b6" stroke-width="1.2"/>
<line x1="177.85" y1="222" x2="183.25" y2="222" stroke="#1b97b6" stroke-width="1.4"/>
<line x1="206.3" y1="230.4" x2="206.3" y2="224.7" stroke="#1b97b6" stroke-width="1.2"/>
<line x1="203.6" y1="224.7" x2="209" y2="224.7" stroke="#1b97b6" stroke-width="1.4"/>
<circle cx="51.8" cy="236.8" r="2.2" fill="#fff" stroke="#1b97b6" stroke-width="1.2"/>
<circle cx="77.55" cy="235.3" r="2.2" fill="#fff" stroke="#1b97b6" stroke-width="1.2"/>
<circle cx="103.3" cy="236.8" r="2.2" fill="#fff" stroke="#1b97b6" stroke-width="1.2"/>
<circle cx="129.05" cy="236.4" r="2.2" fill="#fff" stroke="#1b97b6" stroke-width="1.2"/>
<circle cx="154.8" cy="238.7" r="2.2" fill="#fff" stroke="#1b97b6" stroke-width="1.2"/>
<circle cx="180.55" cy="226.6" r="2.2" fill="#fff" stroke="#1b97b6" stroke-width="1.2"/>
<circle cx="206.3" cy="230.4" r="2.2" fill="#fff" stroke="#1b97b6" stroke-width="1.2"/>
<text x="205.3" y="182.9" font-size="9.2" text-anchor="middle" stroke="#111" stroke-width="0.22">a</text>
<text x="197.7" y="205.1" font-size="9.2" text-anchor="middle" stroke="#111" stroke-width="0.22">b</text>
<text x="213.9" y="205.1" font-size="9.2" text-anchor="middle" stroke="#111" stroke-width="0.22">b</text>
<text x="195.8" y="217.4" font-size="9.2" stroke="#111" stroke-width="0.22" textLength="27.6" lengthAdjust="spacingAndGlyphs">N / NF</text>
<text x="208.2" y="239.3" font-size="9.2" text-anchor="middle" stroke="#111" stroke-width="0.22">c</text>
<text x="179.7" y="254.5" font-size="9.2" stroke="#111" stroke-width="0.22">Con</text>
<line x1="187.7" y1="245" x2="193.05" y2="238.06" stroke="#111" stroke-width="1"/>
<polygon points="195.8,234.5 194.65,239.92 190.85,236.99" fill="#111"/>
<text x="140.8" y="193.7" font-size="9.2" stroke="#111" stroke-width="0.22">GF</text>
<line x1="154" y1="195.6" x2="160.5" y2="202.44" stroke="#111" stroke-width="1"/>
<polygon points="163.6,205.7 158.42,203.73 161.89,200.42" fill="#111"/>
<text x="7.2" y="227.1" font-size="9.6" text-anchor="middle" stroke="#111" stroke-width="0.22" transform="rotate(-90 7.2 227.1)" textLength="12.2" lengthAdjust="spacingAndGlyphs">SA</text>
<text x="20.2" y="227.55" font-size="9.4" text-anchor="middle" stroke="#111" stroke-width="0.22" transform="rotate(-90 20.2 227.55)" textLength="46.1" lengthAdjust="spacingAndGlyphs">(µ g g <tspan dy="-3.4" font-size="5.8">−1</tspan><tspan dy="3.4">FM)</tspan></text>
<line x1="276.2" y1="175" x2="276.2" y2="294.6" stroke="#111" stroke-width="1.6"/>
<line x1="272.6" y1="294.6" x2="276.2" y2="294.6" stroke="#111" stroke-width="1.4"/>
<text x="271.7" y="297.7" font-size="10" text-anchor="end" stroke="#111" stroke-width="0.22">0.0</text>
<line x1="272.6" y1="264.9" x2="276.2" y2="264.9" stroke="#111" stroke-width="1.4"/>
<text x="271.7" y="268" font-size="10" text-anchor="end" stroke="#111" stroke-width="0.22">0.2</text>
<line x1="272.6" y1="235.2" x2="276.2" y2="235.2" stroke="#111" stroke-width="1.4"/>
<text x="271.7" y="238.3" font-size="10" text-anchor="end" stroke="#111" stroke-width="0.22">0.4</text>
<line x1="272.6" y1="205.5" x2="276.2" y2="205.5" stroke="#111" stroke-width="1.4"/>
<text x="271.7" y="208.6" font-size="10" text-anchor="end" stroke="#111" stroke-width="0.22">0.6</text>
<line x1="272.6" y1="175.8" x2="276.2" y2="175.8" stroke="#111" stroke-width="1.4"/>
<text x="271.7" y="178.9" font-size="10" text-anchor="end" stroke="#111" stroke-width="0.22">0.8</text>
<line x1="276.2" y1="294.6" x2="454.5" y2="294.6" stroke="#111" stroke-width="1.6"/>
<line x1="303.3" y1="294.6" x2="303.3" y2="298.2" stroke="#111" stroke-width="1.4"/>
<text x="303.3" y="307.9" font-size="10" text-anchor="middle" stroke="#111" stroke-width="0.22">8</text>
<line x1="344.3" y1="294.6" x2="344.3" y2="298.2" stroke="#111" stroke-width="1.4"/>
<text x="344.3" y="307.9" font-size="10" text-anchor="middle" stroke="#111" stroke-width="0.22">24</text>
<line x1="385.1" y1="294.6" x2="385.1" y2="298.2" stroke="#111" stroke-width="1.4"/>
<text x="385.1" y="307.9" font-size="10" text-anchor="middle" stroke="#111" stroke-width="0.22">48</text>
<line x1="426.2" y1="294.6" x2="426.2" y2="298.2" stroke="#111" stroke-width="1.4"/>
<text x="426.2" y="307.9" font-size="10" text-anchor="middle" stroke="#111" stroke-width="0.22">72</text>
<text x="367.1" y="318.2" font-size="9.6" text-anchor="middle" stroke="#111" stroke-width="0.22" textLength="91.6" lengthAdjust="spacingAndGlyphs">Time after elicitation (h)</text>
<polyline points="303.3,289.9 344.3,280.2 385.1,270.4 426.2,261.6" stroke="#cc1111" fill="none" stroke-width="1.3" stroke-linejoin="round"/>
<line x1="426.2" y1="261.6" x2="426.2" y2="256" stroke="#cc1111" stroke-width="1.2"/>
<line x1="423.5" y1="256" x2="428.9" y2="256" stroke="#cc1111" stroke-width="1.4"/>
<polygon points="303.3,287.37 305.83,289.9 303.3,292.43 300.77,289.9" fill="#fff" stroke="#cc1111" stroke-width="1.2"/>
<polygon points="344.3,277.67 346.83,280.2 344.3,282.73 341.77,280.2" fill="#fff" stroke="#cc1111" stroke-width="1.2"/>
<polygon points="385.1,267.87 387.63,270.4 385.1,272.93 382.57,270.4" fill="#fff" stroke="#cc1111" stroke-width="1.2"/>
<polygon points="426.2,259.07 428.73,261.6 426.2,264.13 423.67,261.6" fill="#fff" stroke="#cc1111" stroke-width="1.2"/>
<polyline points="303.3,287 344.3,273.2 385.1,251.6 426.2,226.6" stroke="#0cbf0c" fill="none" stroke-width="1.3" stroke-linejoin="round"/>
<line x1="344.3" y1="273.2" x2="344.3" y2="269.6" stroke="#0cbf0c" stroke-width="1.2"/>
<line x1="341.6" y1="269.6" x2="347" y2="269.6" stroke="#0cbf0c" stroke-width="1.4"/>
<line x1="385.1" y1="251.6" x2="385.1" y2="241.3" stroke="#0cbf0c" stroke-width="1.2"/>
<line x1="382.4" y1="241.3" x2="387.8" y2="241.3" stroke="#0cbf0c" stroke-width="1.4"/>
<line x1="426.2" y1="226.6" x2="426.2" y2="214.1" stroke="#0cbf0c" stroke-width="1.2"/>
<line x1="423.5" y1="214.1" x2="428.9" y2="214.1" stroke="#0cbf0c" stroke-width="1.4"/>
<polygon points="303.3,284.36 305.94,289.11 300.66,289.11" fill="#fff" stroke="#0cbf0c" stroke-width="1.2"/>
<polygon points="344.3,270.56 346.94,275.31 341.66,275.31" fill="#fff" stroke="#0cbf0c" stroke-width="1.2"/>
<polygon points="385.1,248.96 387.74,253.71 382.46,253.71" fill="#fff" stroke="#0cbf0c" stroke-width="1.2"/>
<polygon points="426.2,223.96 428.84,228.71 423.56,228.71" fill="#fff" stroke="#0cbf0c" stroke-width="1.2"/>
<polyline points="303.3,288 344.3,275.2 385.1,249.1 426.2,226.6" stroke="#1b97b6" fill="none" stroke-width="1.3" stroke-linejoin="round"/>
<line x1="385.1" y1="249.1" x2="385.1" y2="235.8" stroke="#1b97b6" stroke-width="1.2"/>
<line x1="382.4" y1="235.8" x2="387.8" y2="235.8" stroke="#1b97b6" stroke-width="1.4"/>
<line x1="426.2" y1="226.6" x2="426.2" y2="204.4" stroke="#1b97b6" stroke-width="1.2"/>
<line x1="423.5" y1="204.4" x2="428.9" y2="204.4" stroke="#1b97b6" stroke-width="1.4"/>
<circle cx="303.3" cy="288" r="2.2" fill="#fff" stroke="#1b97b6" stroke-width="1.2"/>
<circle cx="344.3" cy="275.2" r="2.2" fill="#fff" stroke="#1b97b6" stroke-width="1.2"/>
<circle cx="385.1" cy="249.1" r="2.2" fill="#fff" stroke="#1b97b6" stroke-width="1.2"/>
<circle cx="426.2" cy="226.6" r="2.2" fill="#fff" stroke="#1b97b6" stroke-width="1.2"/>
<text x="344.3" y="265.7" font-size="9.2" text-anchor="middle" stroke="#111" stroke-width="0.22">a</text>
<text x="384.3" y="234.4" font-size="9.2" text-anchor="middle" stroke="#111" stroke-width="0.22">a</text>
<text x="424.5" y="200.5" font-size="9.2" text-anchor="middle" stroke="#111" stroke-width="0.22">a</text>
<text x="348.2" y="289.9" font-size="9.2" stroke="#111" stroke-width="0.22">ab</text>
<text x="385.1" y="282.4" font-size="9.2" text-anchor="middle" stroke="#111" stroke-width="0.22">b</text>
<text x="431.7" y="272.7" font-size="9.2" stroke="#111" stroke-width="0.22">b</text>
<text x="387.9" y="223.8" font-size="9.2" stroke="#111" stroke-width="0.22">Con</text>
<line x1="396.2" y1="227.4" x2="400.02" y2="231.22" stroke="#111" stroke-width="1"/>
<polygon points="403.2,234.4 397.97,232.56 401.36,229.17" fill="#111"/>
<text x="434.5" y="242.7" font-size="9.2" stroke="#111" stroke-width="0.22">N</text>
<line x1="432.3" y1="237.2" x2="428.02" y2="235.03" stroke="#111" stroke-width="1"/>
<polygon points="424,233 429.54,233.12 427.38,237.4" fill="#111"/>
<text x="412.9" y="290.4" font-size="9.2" stroke="#111" stroke-width="0.22">GF</text>
<line x1="418.4" y1="281.5" x2="420.61" y2="274.68" stroke="#111" stroke-width="1"/>
<polygon points="422,270.4 422.74,275.9 418.17,274.42" fill="#111"/>
<text x="244.1" y="231.9" font-size="8.8" text-anchor="middle" stroke="#111" stroke-width="0.22" transform="rotate(-90 244.1 231.9)" textLength="33.5" lengthAdjust="spacingAndGlyphs">Ethylene</text>
<text x="254.1" y="233.85" font-size="8.8" text-anchor="middle" stroke="#111" stroke-width="0.22" transform="rotate(-90 254.1 233.85)" textLength="27.4" lengthAdjust="spacingAndGlyphs">(µL L<tspan dy="-3.4" font-size="5.8">−1</tspan><tspan dy="3.4">)</tspan></text>
<line x1="507" y1="177" x2="507" y2="294.2" stroke="#111" stroke-width="1.6"/>
<line x1="503.4" y1="294.2" x2="507" y2="294.2" stroke="#111" stroke-width="1.4"/>
<text x="502.5" y="297.3" font-size="10" text-anchor="end" stroke="#111" stroke-width="0.22">0</text>
<line x1="503.4" y1="255.35" x2="507" y2="255.35" stroke="#111" stroke-width="1.4"/>
<text x="0" y="0" font-size="10" text-anchor="end" stroke="#111" stroke-width="0.22" transform="translate(502.5 258.45) scale(0.86 1)">5<tspan dx="2.6">0</tspan></text>
<line x1="503.4" y1="216.5" x2="507" y2="216.5" stroke="#111" stroke-width="1.4"/>
<text x="0" y="0" font-size="10" text-anchor="end" stroke="#111" stroke-width="0.22" transform="translate(502.5 219.6) scale(0.86 1)">1<tspan dx="2.6">00</tspan></text>
<line x1="503.4" y1="177.65" x2="507" y2="177.65" stroke="#111" stroke-width="1.4"/>
<text x="0" y="0" font-size="10" text-anchor="end" stroke="#111" stroke-width="0.22" transform="translate(502.5 180.75) scale(0.86 1)">1<tspan dx="2.6">50</tspan></text>
<line x1="507" y1="294.2" x2="683" y2="294.2" stroke="#111" stroke-width="1.6"/>
<line x1="528.3" y1="294.2" x2="528.3" y2="297.8" stroke="#111" stroke-width="1.4"/>
<text x="528.3" y="307.5" font-size="10" text-anchor="middle" stroke="#111" stroke-width="0.22">0</text>
<line x1="561.2" y1="294.2" x2="561.2" y2="297.8" stroke="#111" stroke-width="1.4"/>
<text x="561.2" y="307.5" font-size="10" text-anchor="middle" stroke="#111" stroke-width="0.22">3</text>
<line x1="594.1" y1="294.2" x2="594.1" y2="297.8" stroke="#111" stroke-width="1.4"/>
<text x="594.1" y="307.5" font-size="10" text-anchor="middle" stroke="#111" stroke-width="0.22">8</text>
<line x1="627" y1="294.2" x2="627" y2="297.8" stroke="#111" stroke-width="1.4"/>
<text x="0" y="0" font-size="10" text-anchor="middle" stroke="#111" stroke-width="0.22" transform="translate(627 307.5) scale(0.86 1)">1<tspan dx="2.6">2</tspan></text>
<line x1="659.9" y1="294.2" x2="659.9" y2="297.8" stroke="#111" stroke-width="1.4"/>
<text x="0" y="0" font-size="10" text-anchor="middle" stroke="#111" stroke-width="0.22" transform="translate(659.9 307.5) scale(0.86 1)">2<tspan dx="2.6">4</tspan></text>
<text x="605.2" y="318.1" font-size="9.6" text-anchor="middle" stroke="#111" stroke-width="0.22" textLength="91.3" lengthAdjust="spacingAndGlyphs">Time after elicitation (h)</text>
<polyline points="528.3,245.7 561.2,230 594.1,215.5 627,223.5 659.9,236.9" stroke="#cc1111" fill="none" stroke-width="1.3" stroke-linejoin="round"/>
<line x1="561.2" y1="230" x2="561.2" y2="225.8" stroke="#cc1111" stroke-width="1.2"/>
<line x1="558.5" y1="225.8" x2="563.9" y2="225.8" stroke="#cc1111" stroke-width="1.4"/>
<line x1="594.1" y1="215.5" x2="594.1" y2="200.8" stroke="#cc1111" stroke-width="1.2"/>
<line x1="591.4" y1="200.8" x2="596.8" y2="200.8" stroke="#cc1111" stroke-width="1.4"/>
<line x1="627" y1="223.5" x2="627" y2="211.3" stroke="#cc1111" stroke-width="1.2"/>
<line x1="624.3" y1="211.3" x2="629.7" y2="211.3" stroke="#cc1111" stroke-width="1.4"/>
<line x1="659.9" y1="236.9" x2="659.9" y2="221" stroke="#cc1111" stroke-width="1.2"/>
<line x1="657.2" y1="221" x2="662.6" y2="221" stroke="#cc1111" stroke-width="1.4"/>
<polygon points="528.3,243.17 530.83,245.7 528.3,248.23 525.77,245.7" fill="#cc1111" stroke="#cc1111" stroke-width="1.2"/>
<polygon points="561.2,227.47 563.73,230 561.2,232.53 558.67,230" fill="#cc1111" stroke="#cc1111" stroke-width="1.2"/>
<polygon points="594.1,212.97 596.63,215.5 594.1,218.03 591.57,215.5" fill="#cc1111" stroke="#cc1111" stroke-width="1.2"/>
<polygon points="627,220.97 629.53,223.5 627,226.03 624.47,223.5" fill="#cc1111" stroke="#cc1111" stroke-width="1.2"/>
<polygon points="659.9,234.37 662.43,236.9 659.9,239.43 657.37,236.9" fill="#cc1111" stroke="#cc1111" stroke-width="1.2"/>
<polyline points="528.3,245.7 561.2,242.4 594.1,247 627,239.6 659.9,249.9" stroke="#fdbf85" fill="none" stroke-width="1.3" stroke-linejoin="round"/>
<line x1="561.2" y1="242.4" x2="561.2" y2="236.9" stroke="#fdbf85" stroke-width="1.2"/>
<line x1="558.5" y1="236.9" x2="563.9" y2="236.9" stroke="#fdbf85" stroke-width="1.4"/>
<polygon points="528.3,243.06 530.94,247.81 525.66,247.81" fill="#fff" stroke="#fdbf85" stroke-width="1.2"/>
<polygon points="561.2,239.76 563.84,244.51 558.56,244.51" fill="#fff" stroke="#fdbf85" stroke-width="1.2"/>
<polygon points="594.1,244.36 596.74,249.11 591.46,249.11" fill="#fff" stroke="#fdbf85" stroke-width="1.2"/>
<polygon points="627,236.96 629.64,241.71 624.36,241.71" fill="#fff" stroke="#fdbf85" stroke-width="1.2"/>
<polygon points="659.9,247.26 662.54,252.01 657.26,252.01" fill="#fff" stroke="#fdbf85" stroke-width="1.2"/>
<polyline points="528.3,245.7 561.2,245.2 594.1,240.2 627,234.6 659.9,243.8" stroke="#0cbf0c" fill="none" stroke-width="1.3" stroke-linejoin="round"/>
<line x1="594.1" y1="240.2" x2="594.1" y2="231.3" stroke="#0cbf0c" stroke-width="1.2"/>
<line x1="591.4" y1="231.3" x2="596.8" y2="231.3" stroke="#0cbf0c" stroke-width="1.4"/>
<line x1="627" y1="234.6" x2="627" y2="224.4" stroke="#0cbf0c" stroke-width="1.2"/>
<line x1="624.3" y1="224.4" x2="629.7" y2="224.4" stroke="#0cbf0c" stroke-width="1.4"/>
<polygon points="528.3,243.06 530.94,247.81 525.66,247.81" fill="#fff" stroke="#0cbf0c" stroke-width="1.2"/>
<polygon points="561.2,242.56 563.84,247.31 558.56,247.31" fill="#fff" stroke="#0cbf0c" stroke-width="1.2"/>
<polygon points="594.1,237.56 596.74,242.31 591.46,242.31" fill="#fff" stroke="#0cbf0c" stroke-width="1.2"/>
<polygon points="627,231.96 629.64,236.71 624.36,236.71" fill="#fff" stroke="#0cbf0c" stroke-width="1.2"/>
<polygon points="659.9,241.16 662.54,245.91 657.26,245.91" fill="#fff" stroke="#0cbf0c" stroke-width="1.2"/>
<polyline points="528.3,245.7 561.2,245.7 594.1,243.2 627,241 659.9,252.7" stroke="#1b97b6" fill="none" stroke-width="1.3" stroke-linejoin="round"/>
<line x1="528.3" y1="245.7" x2="528.3" y2="243" stroke="#1b97b6" stroke-width="1.2"/>
<line x1="525.6" y1="243" x2="531" y2="243" stroke="#1b97b6" stroke-width="1.4"/>
<line x1="594.1" y1="243.2" x2="594.1" y2="235.5" stroke="#1b97b6" stroke-width="1.2"/>
<line x1="591.4" y1="235.5" x2="596.8" y2="235.5" stroke="#1b97b6" stroke-width="1.4"/>
<circle cx="528.3" cy="245.7" r="2.2" fill="#fff" stroke="#1b97b6" stroke-width="1.2"/>
<circle cx="561.2" cy="245.7" r="2.2" fill="#fff" stroke="#1b97b6" stroke-width="1.2"/>
<circle cx="594.1" cy="243.2" r="2.2" fill="#fff" stroke="#1b97b6" stroke-width="1.2"/>
<circle cx="627" cy="241" r="2.2" fill="#fff" stroke="#1b97b6" stroke-width="1.2"/>
<circle cx="659.9" cy="252.7" r="2.2" fill="#fff" stroke="#1b97b6" stroke-width="1.2"/>
<rect x="525.3" y="242.7" width="6" height="6" fill="#1b97b6"/>
<circle cx="528.3" cy="245.7" r="1.5" fill="#fff"/>
<text x="561.2" y="222.2" font-size="9.2" text-anchor="middle" stroke="#111" stroke-width="0.22">a</text>
<text x="594.1" y="198" font-size="9.2" text-anchor="middle" stroke="#111" stroke-width="0.22">a</text>
<text x="628.1" y="209.7" font-size="9.2" text-anchor="middle" stroke="#111" stroke-width="0.22">a</text>
<text x="614.8" y="233.5" font-size="9.2" stroke="#111" stroke-width="0.22">ab</text>
<text x="561.2" y="256.3" font-size="9.2" text-anchor="middle" stroke="#111" stroke-width="0.22">b</text>
<text x="594.1" y="259" font-size="9.2" text-anchor="middle" stroke="#111" stroke-width="0.22">b</text>
<text x="627" y="252.7" font-size="9.2" text-anchor="middle" stroke="#111" stroke-width="0.22">b</text>
<text x="616.5" y="198" font-size="9.2" stroke="#111" stroke-width="0.22">GF</text>
<line x1="618.4" y1="202.2" x2="615.63" y2="211.2" stroke="#111" stroke-width="1"/>
<polygon points="614.3,215.5 613.48,210.01 618.07,211.43" fill="#111"/>
<text x="667.5" y="226.6" font-size="9.2" stroke="#111" stroke-width="0.22">NF</text>
<line x1="670.3" y1="228.5" x2="667.04" y2="238.14" stroke="#111" stroke-width="1"/>
<polygon points="665.6,242.4 664.93,236.89 669.48,238.43" fill="#111"/>
<text x="624" y="275.7" font-size="9.2" stroke="#111" stroke-width="0.22" textLength="32.4" lengthAdjust="spacingAndGlyphs">Con / N</text>
<line x1="647" y1="267.4" x2="650.18" y2="258.54" stroke="#111" stroke-width="1"/>
<polygon points="651.7,254.3 652.27,259.82 647.75,258.2" fill="#111"/>
<text x="471.6" y="232.15" font-size="9.8" text-anchor="middle" stroke="#111" stroke-width="0.22" transform="rotate(-90 471.6 232.15)" textLength="19.8" lengthAdjust="spacingAndGlyphs">H<tspan dy="2.2" font-size="6">2</tspan><tspan dy="-2.2">O</tspan><tspan dy="2.2" font-size="6">2</tspan></text>
<text x="483.4" y="232.15" font-size="9.4" text-anchor="middle" stroke="#111" stroke-width="0.22" transform="rotate(-90 483.4 232.15)" textLength="52.4" lengthAdjust="spacingAndGlyphs">(nmol g<tspan dy="-3.4" font-size="5.8">−1</tspan><tspan dy="3.4">FM )</tspan></text>
<rect x="64.4" y="436.3" width="25" height="37.7" fill="#1793b1"/>
<line x1="76.9" y1="436.3" x2="76.9" y2="434.3" stroke="#1b97b6" stroke-width="1.2"/>
<line x1="70.5" y1="434.3" x2="83.3" y2="434.3" stroke="#1b97b6" stroke-width="1.3"/>
<circle cx="76" cy="433.8" r="1.15" fill="#111"/>
<circle cx="74.7" cy="435.7" r="1.15" fill="#111"/>
<circle cx="78.8" cy="436.5" r="1.15" fill="#111"/>
<circle cx="76.9" cy="439" r="1.15" fill="#111"/>
<rect x="102.4" y="417.4" width="25.3" height="56.6" fill="#00c000"/>
<line x1="115.05" y1="417.4" x2="115.05" y2="411.6" stroke="#00c000" stroke-width="1.2"/>
<line x1="108.65" y1="411.6" x2="121.45" y2="411.6" stroke="#00c000" stroke-width="1.3"/>
<circle cx="114.9" cy="393.5" r="1.15" fill="#111"/>
<circle cx="114.9" cy="410.2" r="1.15" fill="#111"/>
<circle cx="114.9" cy="416.3" r="1.15" fill="#111"/>
<circle cx="114.9" cy="423.2" r="1.15" fill="#111"/>
<circle cx="114.9" cy="428.2" r="1.15" fill="#111"/>
<circle cx="114.9" cy="433" r="1.15" fill="#111"/>
<rect x="140.4" y="420.2" width="25.8" height="53.8" fill="#ffc285"/>
<line x1="153.3" y1="420.2" x2="153.3" y2="417.1" stroke="#ffc285" stroke-width="1.2"/>
<line x1="146.9" y1="417.1" x2="159.7" y2="417.1" stroke="#ffc285" stroke-width="1.3"/>
<circle cx="153.2" cy="410.2" r="1.15" fill="#111"/>
<circle cx="151" cy="415.5" r="1.15" fill="#111"/>
<circle cx="155.1" cy="417" r="1.15" fill="#111"/>
<circle cx="151" cy="426.5" r="1.15" fill="#111"/>
<circle cx="154.6" cy="426" r="1.15" fill="#111"/>
<rect x="178.7" y="367.7" width="25" height="106.3" fill="#c80000"/>
<line x1="191.2" y1="367.7" x2="191.2" y2="364.1" stroke="#c80000" stroke-width="1.2"/>
<line x1="184.8" y1="364.1" x2="197.6" y2="364.1" stroke="#c80000" stroke-width="1.3"/>
<circle cx="191.2" cy="356.6" r="1.15" fill="#111"/>
<circle cx="191.2" cy="359.4" r="1.15" fill="#111"/>
<circle cx="191.2" cy="366.9" r="1.15" fill="#111"/>
<circle cx="189.2" cy="375.5" r="1.15" fill="#111"/>
<circle cx="192.6" cy="373.8" r="1.15" fill="#111"/>
<line x1="51.2" y1="349" x2="51.2" y2="474" stroke="#111" stroke-width="1.6"/>
<line x1="47.6" y1="474" x2="51.2" y2="474" stroke="#111" stroke-width="1.4"/>
<text x="46.7" y="477.1" font-size="10" text-anchor="end" stroke="#111" stroke-width="0.22">0</text>
<line x1="47.6" y1="449.16" x2="51.2" y2="449.16" stroke="#111" stroke-width="1.4"/>
<text x="0" y="0" font-size="10" text-anchor="end" stroke="#111" stroke-width="0.22" transform="translate(46.7 452.26) scale(0.86 1)">2<tspan dx="2.6">0</tspan></text>
<line x1="47.6" y1="424.32" x2="51.2" y2="424.32" stroke="#111" stroke-width="1.4"/>
<text x="0" y="0" font-size="10" text-anchor="end" stroke="#111" stroke-width="0.22" transform="translate(46.7 427.42) scale(0.86 1)">4<tspan dx="2.6">0</tspan></text>
<line x1="47.6" y1="399.48" x2="51.2" y2="399.48" stroke="#111" stroke-width="1.4"/>
<text x="0" y="0" font-size="10" text-anchor="end" stroke="#111" stroke-width="0.22" transform="translate(46.7 402.58) scale(0.86 1)">6<tspan dx="2.6">0</tspan></text>
<line x1="47.6" y1="374.64" x2="51.2" y2="374.64" stroke="#111" stroke-width="1.4"/>
<text x="0" y="0" font-size="10" text-anchor="end" stroke="#111" stroke-width="0.22" transform="translate(46.7 377.74) scale(0.86 1)">8<tspan dx="2.6">0</tspan></text>
<line x1="47.6" y1="349.8" x2="51.2" y2="349.8" stroke="#111" stroke-width="1.4"/>
<text x="0" y="0" font-size="10" text-anchor="end" stroke="#111" stroke-width="0.22" transform="translate(46.7 352.9) scale(0.86 1)">1<tspan dx="2.6">00</tspan></text>
<line x1="51.2" y1="474" x2="217.5" y2="474" stroke="#111" stroke-width="1.6"/>
<text x="76.9" y="485.6" font-size="9.8" text-anchor="middle" stroke="#111" stroke-width="0.22">Con</text>
<line x1="76.9" y1="474" x2="76.9" y2="477.2" stroke="#111" stroke-width="1.2"/>
<text x="115.05" y="485.6" font-size="9.8" text-anchor="middle" stroke="#111" stroke-width="0.22">N</text>
<line x1="115.05" y1="474" x2="115.05" y2="477.2" stroke="#111" stroke-width="1.2"/>
<text x="153.3" y="485.6" font-size="9.8" text-anchor="middle" stroke="#111" stroke-width="0.22">NF</text>
<line x1="153.3" y1="474" x2="153.3" y2="477.2" stroke="#111" stroke-width="1.2"/>
<text x="191.2" y="485.6" font-size="9.8" text-anchor="middle" stroke="#111" stroke-width="0.22">GF</text>
<line x1="191.2" y1="474" x2="191.2" y2="477.2" stroke="#111" stroke-width="1.2"/>
<text x="76.5" y="424.6" font-size="9.2" text-anchor="middle" stroke="#111" stroke-width="0.22">c</text>
<text x="114.9" y="381.6" font-size="9.2" text-anchor="middle" stroke="#111" stroke-width="0.22">b</text>
<text x="153" y="398.3" font-size="9.2" text-anchor="middle" stroke="#111" stroke-width="0.22">b</text>
<text x="191" y="346.9" font-size="9.2" text-anchor="middle" stroke="#111" stroke-width="0.22">a</text>
<text x="13.2" y="409.55" font-size="9" text-anchor="middle" stroke="#111" stroke-width="0.22" transform="rotate(-90 13.2 409.55)" textLength="25.2" lengthAdjust="spacingAndGlyphs">TrypPI</text>
<text x="26.4" y="408.2" font-size="9.2" text-anchor="middle" stroke="#111" stroke-width="0.22" transform="rotate(-90 26.4 408.2)" textLength="65.8" lengthAdjust="spacingAndGlyphs">(nmol g<tspan dy="-3.4" font-size="5.8">−1</tspan><tspan dy="3.4"> protein)</tspan></text>
<rect x="292.7" y="463.8" width="25.8" height="9.6" fill="#1793b1"/>
<line x1="305.6" y1="463.8" x2="305.6" y2="460.2" stroke="#1b97b6" stroke-width="1.2"/>
<line x1="299.2" y1="460.2" x2="312" y2="460.2" stroke="#1b97b6" stroke-width="1.3"/>
<circle cx="305.5" cy="458.2" r="1.15" fill="#111"/>
<circle cx="305.5" cy="461.5" r="1.15" fill="#111"/>
<circle cx="305.5" cy="465.7" r="1.15" fill="#111"/>
<circle cx="305.5" cy="469.9" r="1.15" fill="#111"/>
<rect x="331.6" y="464.6" width="25.8" height="8.8" fill="#00c000"/>
<line x1="344.5" y1="464.6" x2="344.5" y2="462.4" stroke="#00c000" stroke-width="1.2"/>
<line x1="338.1" y1="462.4" x2="350.9" y2="462.4" stroke="#00c000" stroke-width="1.3"/>
<circle cx="342.7" cy="461.5" r="1.15" fill="#111"/>
<circle cx="347.1" cy="461" r="1.15" fill="#111"/>
<circle cx="344.9" cy="465.7" r="1.15" fill="#111"/>
<circle cx="344.9" cy="469.9" r="1.15" fill="#111"/>
<rect x="370.4" y="465.4" width="25.8" height="8" fill="#ffc285"/>
<line x1="383.3" y1="465.4" x2="383.3" y2="462.9" stroke="#ffc285" stroke-width="1.2"/>
<line x1="376.9" y1="462.9" x2="389.7" y2="462.9" stroke="#ffc285" stroke-width="1.3"/>
<circle cx="383.2" cy="457.7" r="1.15" fill="#111"/>
<circle cx="378.7" cy="465.7" r="1.15" fill="#111"/>
<circle cx="383.2" cy="465.7" r="1.15" fill="#111"/>
<circle cx="387.1" cy="465.7" r="1.15" fill="#111"/>
<circle cx="383.2" cy="470.4" r="1.15" fill="#111"/>
<rect x="409.5" y="419.4" width="25.5" height="54" fill="#c80000"/>
<line x1="422.25" y1="419.4" x2="422.25" y2="404.7" stroke="#c80000" stroke-width="1.2"/>
<line x1="415.85" y1="404.7" x2="428.65" y2="404.7" stroke="#c80000" stroke-width="1.3"/>
<circle cx="422" cy="367.6" r="1.15" fill="#111"/>
<circle cx="422" cy="406.9" r="1.15" fill="#111"/>
<circle cx="422" cy="431.9" r="1.15" fill="#111"/>
<circle cx="422" cy="440.2" r="1.15" fill="#111"/>
<circle cx="422" cy="449.1" r="1.15" fill="#111"/>
<line x1="279.2" y1="346.5" x2="279.2" y2="473.4" stroke="#111" stroke-width="1.6"/>
<line x1="275.6" y1="473.4" x2="279.2" y2="473.4" stroke="#111" stroke-width="1.4"/>
<text x="274.7" y="476.5" font-size="10" text-anchor="end" stroke="#111" stroke-width="0.22">0</text>
<line x1="275.6" y1="431.3" x2="279.2" y2="431.3" stroke="#111" stroke-width="1.4"/>
<text x="274.7" y="434.4" font-size="10" text-anchor="end" stroke="#111" stroke-width="0.22">20</text>
<line x1="275.6" y1="389.2" x2="279.2" y2="389.2" stroke="#111" stroke-width="1.4"/>
<text x="274.7" y="392.3" font-size="10" text-anchor="end" stroke="#111" stroke-width="0.22">40</text>
<line x1="275.6" y1="347.1" x2="279.2" y2="347.1" stroke="#111" stroke-width="1.4"/>
<text x="274.7" y="350.2" font-size="10" text-anchor="end" stroke="#111" stroke-width="0.22">60</text>
<line x1="279.2" y1="473.4" x2="448.9" y2="473.4" stroke="#111" stroke-width="1.6"/>
<text x="305.6" y="486" font-size="9.8" text-anchor="middle" stroke="#111" stroke-width="0.22">Con</text>
<line x1="305.6" y1="473.4" x2="305.6" y2="476.6" stroke="#111" stroke-width="1.2"/>
<text x="344.5" y="486" font-size="9.8" text-anchor="middle" stroke="#111" stroke-width="0.22">N</text>
<line x1="344.5" y1="473.4" x2="344.5" y2="476.6" stroke="#111" stroke-width="1.2"/>
<text x="383.3" y="486" font-size="9.8" text-anchor="middle" stroke="#111" stroke-width="0.22">NF</text>
<line x1="383.3" y1="473.4" x2="383.3" y2="476.6" stroke="#111" stroke-width="1.2"/>
<text x="422.25" y="486" font-size="9.8" text-anchor="middle" stroke="#111" stroke-width="0.22">GF</text>
<line x1="422.25" y1="473.4" x2="422.25" y2="476.6" stroke="#111" stroke-width="1.2"/>
<text x="305.5" y="450.4" font-size="9.2" text-anchor="middle" stroke="#111" stroke-width="0.22">b</text>
<text x="345" y="452.7" font-size="9.2" text-anchor="middle" stroke="#111" stroke-width="0.22">b</text>
<text x="383.5" y="450.4" font-size="9.2" text-anchor="middle" stroke="#111" stroke-width="0.22">b</text>
<text x="419.5" y="359.5" font-size="9.2" text-anchor="middle" stroke="#111" stroke-width="0.22">a</text>
<text x="250.3" y="410.6" font-size="9" text-anchor="middle" stroke="#111" stroke-width="0.22" transform="rotate(-90 250.3 410.6)" textLength="114.6" lengthAdjust="spacingAndGlyphs"><tspan font-style="italic">p</tspan>-Coumaroylputrescine content</text>
<text x="260.8" y="410.05" font-size="9" text-anchor="middle" stroke="#111" stroke-width="0.22" transform="rotate(-90 260.8 410.05)" textLength="46.8" lengthAdjust="spacingAndGlyphs">(µg g<tspan dy="-3.4" font-size="5.8">−1</tspan><tspan dy="3.4"> FM)</tspan></text>
<rect x="526.1" y="445.7" width="25.8" height="26.9" fill="#1793b1"/>
<line x1="539" y1="445.7" x2="539" y2="441.3" stroke="#1b97b6" stroke-width="1.2"/>
<line x1="532.6" y1="441.3" x2="545.4" y2="441.3" stroke="#1b97b6" stroke-width="1.3"/>
<circle cx="536.6" cy="436.6" r="1.15" fill="#111"/>
<circle cx="541.3" cy="435.2" r="1.15" fill="#111"/>
<circle cx="540.2" cy="442.7" r="1.15" fill="#111"/>
<circle cx="540" cy="447.1" r="1.15" fill="#111"/>
<circle cx="536.6" cy="464.9" r="1.15" fill="#111"/>
<rect x="565.2" y="444.9" width="26.1" height="27.7" fill="#00c000"/>
<line x1="578.25" y1="444.9" x2="578.25" y2="440.2" stroke="#00c000" stroke-width="1.2"/>
<line x1="571.85" y1="440.2" x2="584.65" y2="440.2" stroke="#00c000" stroke-width="1.3"/>
<circle cx="576" cy="437.1" r="1.15" fill="#111"/>
<circle cx="581" cy="437.1" r="1.15" fill="#111"/>
<circle cx="575.4" cy="452.7" r="1.15" fill="#111"/>
<circle cx="580.4" cy="452.7" r="1.15" fill="#111"/>
<rect x="604.6" y="462.9" width="25.8" height="9.7" fill="#ffc285"/>
<line x1="617.5" y1="462.9" x2="617.5" y2="459.3" stroke="#ffc285" stroke-width="1.2"/>
<line x1="611.1" y1="459.3" x2="623.9" y2="459.3" stroke="#ffc285" stroke-width="1.3"/>
<circle cx="617" cy="450.4" r="1.15" fill="#111"/>
<circle cx="613.4" cy="464.9" r="1.15" fill="#111"/>
<circle cx="621.2" cy="464.9" r="1.15" fill="#111"/>
<circle cx="617.6" cy="469.3" r="1.15" fill="#111"/>
<rect x="643.4" y="409.4" width="25.8" height="63.2" fill="#c80000"/>
<line x1="656.3" y1="409.4" x2="656.3" y2="393.6" stroke="#c80000" stroke-width="1.2"/>
<line x1="649.9" y1="393.6" x2="662.7" y2="393.6" stroke="#c80000" stroke-width="1.3"/>
<circle cx="656.5" cy="352.8" r="1.15" fill="#111"/>
<circle cx="656.4" cy="403.8" r="1.15" fill="#111"/>
<circle cx="656.4" cy="415.8" r="1.15" fill="#111"/>
<circle cx="656.4" cy="429.1" r="1.15" fill="#111"/>
<circle cx="656.4" cy="442.7" r="1.15" fill="#111"/>
<line x1="512.5" y1="345" x2="512.5" y2="472.6" stroke="#111" stroke-width="1.6"/>
<line x1="508.9" y1="472.6" x2="512.5" y2="472.6" stroke="#111" stroke-width="1.4"/>
<text x="508" y="475.7" font-size="10" text-anchor="end" stroke="#111" stroke-width="0.22">0</text>
<line x1="508.9" y1="440.95" x2="512.5" y2="440.95" stroke="#111" stroke-width="1.4"/>
<text x="0" y="0" font-size="10" text-anchor="end" stroke="#111" stroke-width="0.22" transform="translate(508 444.05) scale(0.86 1)">1<tspan dx="2.6">00</tspan></text>
<line x1="508.9" y1="409.3" x2="512.5" y2="409.3" stroke="#111" stroke-width="1.4"/>
<text x="0" y="0" font-size="10" text-anchor="end" stroke="#111" stroke-width="0.22" transform="translate(508 412.4) scale(0.86 1)">2<tspan dx="2.6">00</tspan></text>
<line x1="508.9" y1="377.65" x2="512.5" y2="377.65" stroke="#111" stroke-width="1.4"/>
<text x="0" y="0" font-size="10" text-anchor="end" stroke="#111" stroke-width="0.22" transform="translate(508 380.75) scale(0.86 1)">3<tspan dx="2.6">00</tspan></text>
<line x1="508.9" y1="346" x2="512.5" y2="346" stroke="#111" stroke-width="1.4"/>
<text x="0" y="0" font-size="10" text-anchor="end" stroke="#111" stroke-width="0.22" transform="translate(508 349.1) scale(0.86 1)">4<tspan dx="2.6">00</tspan></text>
<line x1="512.5" y1="472.6" x2="683.6" y2="472.6" stroke="#111" stroke-width="1.6"/>
<text x="539" y="486" font-size="9.8" text-anchor="middle" stroke="#111" stroke-width="0.22">Con</text>
<line x1="539" y1="472.6" x2="539" y2="475.8" stroke="#111" stroke-width="1.2"/>
<text x="578.25" y="486" font-size="9.8" text-anchor="middle" stroke="#111" stroke-width="0.22">N</text>
<line x1="578.25" y1="472.6" x2="578.25" y2="475.8" stroke="#111" stroke-width="1.2"/>
<text x="617.5" y="486" font-size="9.8" text-anchor="middle" stroke="#111" stroke-width="0.22">NF</text>
<line x1="617.5" y1="472.6" x2="617.5" y2="475.8" stroke="#111" stroke-width="1.2"/>
<text x="656.3" y="486" font-size="9.8" text-anchor="middle" stroke="#111" stroke-width="0.22">GF</text>
<line x1="656.3" y1="472.6" x2="656.3" y2="475.8" stroke="#111" stroke-width="1.2"/>
<text x="540" y="424.6" font-size="9.2" text-anchor="middle" stroke="#111" stroke-width="0.22">b</text>
<text x="579" y="424.6" font-size="9.2" text-anchor="middle" stroke="#111" stroke-width="0.22">b</text>
<text x="617.5" y="431.9" font-size="9.2" text-anchor="middle" stroke="#111" stroke-width="0.22">b</text>
<text x="652.4" y="344.1" font-size="9.2" text-anchor="middle" stroke="#111" stroke-width="0.22">a</text>
<text x="478.6" y="404.65" font-size="9" text-anchor="middle" stroke="#111" stroke-width="0.22" transform="rotate(-90 478.6 404.65)" textLength="101.3" lengthAdjust="spacingAndGlyphs">Feruloylputrescine content</text>
<text x="488" y="406.5" font-size="9" text-anchor="middle" stroke="#111" stroke-width="0.22" transform="rotate(-90 488 406.5)" textLength="42.8" lengthAdjust="spacingAndGlyphs">(ng g<tspan dy="-3.4" font-size="5.8">−1</tspan><tspan dy="3.4"> FM)</tspan></text>
<line x1="313.5" y1="353.2" x2="322.16" y2="358.2" stroke="#333" stroke-width="0.8"/>
<line x1="322.16" y1="358.2" x2="322.16" y2="368.2" stroke="#333" stroke-width="0.8"/>
<line x1="322.16" y1="368.2" x2="313.5" y2="373.2" stroke="#333" stroke-width="0.8"/>
<line x1="313.5" y1="373.2" x2="304.84" y2="368.2" stroke="#333" stroke-width="0.8"/>
<line x1="304.84" y1="368.2" x2="304.84" y2="358.2" stroke="#333" stroke-width="0.8"/>
<line x1="304.84" y1="358.2" x2="313.5" y2="353.2" stroke="#333" stroke-width="0.8"/>
<line x1="314.26" y1="355.49" x2="319.8" y2="358.69" stroke="#333" stroke-width="0.8"/>
<line x1="319.8" y1="367.71" x2="314.26" y2="370.91" stroke="#333" stroke-width="0.8"/>
<line x1="306.44" y1="366.4" x2="306.44" y2="360" stroke="#333" stroke-width="0.8"/>
<line x1="304.84" y1="358.2" x2="300.2" y2="354.3" stroke="#333" stroke-width="0.8"/>
<text x="294.9" y="355.6" font-size="6.6" text-anchor="middle" fill="#333" stroke="#333" stroke-width="0.22">HO</text>
<line x1="322.16" y1="368.2" x2="331.8" y2="374" stroke="#333" stroke-width="0.8"/>
<line x1="331.8" y1="374" x2="340.2" y2="368.8" stroke="#333" stroke-width="0.8"/>
<line x1="340.2" y1="368.8" x2="348.4" y2="373.8" stroke="#333" stroke-width="0.8"/>
<line x1="333.59" y1="374.77" x2="339.97" y2="370.82" stroke="#333" stroke-width="0.8"/>
<line x1="347.5" y1="375.2" x2="347.5" y2="380.6" stroke="#333" stroke-width="0.8"/>
<line x1="349.3" y1="375.2" x2="349.3" y2="380.6" stroke="#333" stroke-width="0.8"/>
<text x="348.4" y="386.2" font-size="6.6" text-anchor="middle" fill="#333" stroke="#333" stroke-width="0.22">O</text>
<line x1="348.4" y1="373.8" x2="355.6" y2="369.6" stroke="#333" stroke-width="0.8"/>
<text x="357.8" y="370.2" font-size="6.6" text-anchor="middle" fill="#333" stroke="#333" stroke-width="0.22">N</text>
<text x="357.8" y="363.6" font-size="6.6" text-anchor="middle" fill="#333" stroke="#333" stroke-width="0.22">H</text>
<line x1="359.9" y1="370.3" x2="364.4" y2="373.5" stroke="#333" stroke-width="0.8"/>
<line x1="364.4" y1="373.5" x2="373.1" y2="368.4" stroke="#333" stroke-width="0.8"/>
<line x1="373.1" y1="368.4" x2="381.8" y2="373.5" stroke="#333" stroke-width="0.8"/>
<line x1="381.8" y1="373.5" x2="390.5" y2="368.4" stroke="#333" stroke-width="0.8"/>
<line x1="390.5" y1="368.4" x2="396" y2="371.6" stroke="#333" stroke-width="0.8"/>
<text x="396.9" y="375" font-size="6.6" fill="#333" stroke="#333" stroke-width="0.22">NH<tspan font-size="4.6" dy="1.2">2</tspan></text>
<line x1="544.4" y1="354" x2="553.41" y2="359.2" stroke="#333" stroke-width="0.8"/>
<line x1="553.41" y1="359.2" x2="553.41" y2="369.6" stroke="#333" stroke-width="0.8"/>
<line x1="553.41" y1="369.6" x2="544.4" y2="374.8" stroke="#333" stroke-width="0.8"/>
<line x1="544.4" y1="374.8" x2="535.39" y2="369.6" stroke="#333" stroke-width="0.8"/>
<line x1="535.39" y1="369.6" x2="535.39" y2="359.2" stroke="#333" stroke-width="0.8"/>
<line x1="535.39" y1="359.2" x2="544.4" y2="354" stroke="#333" stroke-width="0.8"/>
<line x1="545.22" y1="356.32" x2="550.99" y2="359.65" stroke="#333" stroke-width="0.8"/>
<line x1="550.99" y1="369.15" x2="545.22" y2="372.48" stroke="#333" stroke-width="0.8"/>
<line x1="536.99" y1="367.73" x2="536.99" y2="361.07" stroke="#333" stroke-width="0.8"/>
<line x1="535.39" y1="359.2" x2="529.6" y2="354.6" stroke="#333" stroke-width="0.8"/>
<text x="524.2" y="356.7" font-size="6.6" text-anchor="middle" fill="#333" stroke="#333" stroke-width="0.22">HO</text>
<line x1="544.4" y1="354" x2="544.9" y2="348.4" stroke="#333" stroke-width="0.8"/>
<text x="545.4" y="348.6" font-size="6.6" text-anchor="middle" fill="#333" stroke="#333" stroke-width="0.22">O</text>
<line x1="547.4" y1="344.7" x2="551.2" y2="342.4" stroke="#333" stroke-width="0.8"/>
<text x="551" y="344.6" font-size="6.6" fill="#333" stroke="#333" stroke-width="0.22">CH<tspan font-size="4.6" dy="1.2">3</tspan></text>
<line x1="553.41" y1="369.6" x2="563.4" y2="376.6" stroke="#333" stroke-width="0.8"/>
<line x1="563.4" y1="376.6" x2="571.9" y2="371.6" stroke="#333" stroke-width="0.8"/>
<line x1="571.9" y1="371.6" x2="581.2" y2="376.6" stroke="#333" stroke-width="0.8"/>
<line x1="565.11" y1="377.45" x2="571.57" y2="373.65" stroke="#333" stroke-width="0.8"/>
<line x1="580.3" y1="378.2" x2="580.3" y2="383.4" stroke="#333" stroke-width="0.8"/>
<line x1="582.1" y1="378.2" x2="582.1" y2="383.4" stroke="#333" stroke-width="0.8"/>
<text x="581.2" y="389.2" font-size="6.6" text-anchor="middle" fill="#333" stroke="#333" stroke-width="0.22">O</text>
<line x1="581.2" y1="376.6" x2="588.6" y2="372.3" stroke="#333" stroke-width="0.8"/>
<text x="590.9" y="372.6" font-size="6.6" text-anchor="middle" fill="#333" stroke="#333" stroke-width="0.22">N</text>
<text x="590.9" y="366" font-size="6.6" text-anchor="middle" fill="#333" stroke="#333" stroke-width="0.22">H</text>
<line x1="593" y1="372.8" x2="598.5" y2="375.8" stroke="#333" stroke-width="0.8"/>
<line x1="598.5" y1="375.8" x2="608" y2="371.1" stroke="#333" stroke-width="0.8"/>
<line x1="608" y1="371.1" x2="617.5" y2="375.8" stroke="#333" stroke-width="0.8"/>
<line x1="617.5" y1="375.8" x2="627" y2="371.1" stroke="#333" stroke-width="0.8"/>
<line x1="627" y1="371.1" x2="632.5" y2="374.2" stroke="#333" stroke-width="0.8"/>
<text x="633.4" y="377.6" font-size="6.6" fill="#333" stroke="#333" stroke-width="0.22">NH<tspan font-size="4.6" dy="1.2">2</tspan></text>
<rect x="55.1" y="595.5" width="4.75" height="92.1" fill="#1793b1"/>
<line x1="57.47" y1="595.5" x2="57.47" y2="591.5" stroke="#1b97b6" stroke-width="1"/>
<line x1="55.47" y1="591.5" x2="59.47" y2="591.5" stroke="#1b97b6" stroke-width="1.2"/>
<rect x="59.85" y="597.9" width="4.75" height="89.7" fill="#00c000"/>
<line x1="62.22" y1="597.9" x2="62.22" y2="593.6" stroke="#00c000" stroke-width="1"/>
<line x1="60.22" y1="593.6" x2="64.22" y2="593.6" stroke="#00c000" stroke-width="1.2"/>
<rect x="64.6" y="603.6" width="4.75" height="84" fill="#ffc285"/>
<line x1="66.97" y1="603.6" x2="66.97" y2="597.9" stroke="#f8b878" stroke-width="1"/>
<line x1="64.97" y1="597.9" x2="68.97" y2="597.9" stroke="#f8b878" stroke-width="1.2"/>
<rect x="69.35" y="559.1" width="4.75" height="128.5" fill="#c80000"/>
<line x1="71.72" y1="559.1" x2="71.72" y2="553.4" stroke="#dd2222" stroke-width="1"/>
<line x1="69.72" y1="553.4" x2="73.72" y2="553.4" stroke="#dd2222" stroke-width="1.2"/>
<rect x="83.82" y="612.5" width="4.75" height="75.1" fill="#1793b1"/>
<line x1="86.19" y1="612.5" x2="86.19" y2="609.7" stroke="#1b97b6" stroke-width="1"/>
<line x1="84.19" y1="609.7" x2="88.19" y2="609.7" stroke="#1b97b6" stroke-width="1.2"/>
<rect x="88.57" y="612" width="4.75" height="75.6" fill="#00c000"/>
<line x1="90.94" y1="612" x2="90.94" y2="606.5" stroke="#00c000" stroke-width="1"/>
<line x1="88.94" y1="606.5" x2="92.94" y2="606.5" stroke="#00c000" stroke-width="1.2"/>
<rect x="93.32" y="615.7" width="4.75" height="71.9" fill="#ffc285"/>
<line x1="95.69" y1="615.7" x2="95.69" y2="613.3" stroke="#f8b878" stroke-width="1"/>
<line x1="93.69" y1="613.3" x2="97.69" y2="613.3" stroke="#f8b878" stroke-width="1.2"/>
<rect x="98.07" y="569.1" width="4.75" height="118.5" fill="#c80000"/>
<line x1="100.44" y1="569.1" x2="100.44" y2="562.3" stroke="#dd2222" stroke-width="1"/>
<line x1="98.44" y1="562.3" x2="102.44" y2="562.3" stroke="#dd2222" stroke-width="1.2"/>
<rect x="112.54" y="639.2" width="4.75" height="48.4" fill="#1793b1"/>
<line x1="114.91" y1="639.2" x2="114.91" y2="636.5" stroke="#1b97b6" stroke-width="1"/>
<line x1="112.91" y1="636.5" x2="116.91" y2="636.5" stroke="#1b97b6" stroke-width="1.2"/>
<rect x="117.29" y="632.3" width="4.75" height="55.3" fill="#00c000"/>
<line x1="119.66" y1="632.3" x2="119.66" y2="629" stroke="#00c000" stroke-width="1"/>
<line x1="117.66" y1="629" x2="121.66" y2="629" stroke="#00c000" stroke-width="1.2"/>
<rect x="122.04" y="656.2" width="4.75" height="31.4" fill="#ffc285"/>
<line x1="124.41" y1="656.2" x2="124.41" y2="645" stroke="#f8b878" stroke-width="1"/>
<line x1="122.41" y1="645" x2="126.41" y2="645" stroke="#f8b878" stroke-width="1.2"/>
<rect x="126.79" y="600" width="4.75" height="87.6" fill="#c80000"/>
<line x1="129.16" y1="600" x2="129.16" y2="595.5" stroke="#dd2222" stroke-width="1"/>
<line x1="127.16" y1="595.5" x2="131.16" y2="595.5" stroke="#dd2222" stroke-width="1.2"/>
<rect x="141.26" y="633.3" width="4.75" height="54.3" fill="#1793b1"/>
<line x1="143.63" y1="633.3" x2="143.63" y2="630" stroke="#1b97b6" stroke-width="1"/>
<line x1="141.63" y1="630" x2="145.63" y2="630" stroke="#1b97b6" stroke-width="1.2"/>
<rect x="146.01" y="629.4" width="4.75" height="58.2" fill="#00c000"/>
<line x1="148.38" y1="629.4" x2="148.38" y2="626" stroke="#00c000" stroke-width="1"/>
<line x1="146.38" y1="626" x2="150.38" y2="626" stroke="#00c000" stroke-width="1.2"/>
<rect x="150.76" y="631.6" width="4.75" height="56" fill="#ffc285"/>
<line x1="153.13" y1="631.6" x2="153.13" y2="627" stroke="#f8b878" stroke-width="1"/>
<line x1="151.13" y1="627" x2="155.13" y2="627" stroke="#f8b878" stroke-width="1.2"/>
<rect x="155.51" y="596.5" width="4.75" height="91.1" fill="#c80000"/>
<line x1="157.88" y1="596.5" x2="157.88" y2="592" stroke="#dd2222" stroke-width="1"/>
<line x1="155.88" y1="592" x2="159.88" y2="592" stroke="#dd2222" stroke-width="1.2"/>
<rect x="169.98" y="583.1" width="4.75" height="104.5" fill="#1793b1"/>
<line x1="172.35" y1="583.1" x2="172.35" y2="579" stroke="#1b97b6" stroke-width="1"/>
<line x1="170.35" y1="579" x2="174.35" y2="579" stroke="#1b97b6" stroke-width="1.2"/>
<rect x="174.73" y="584.6" width="4.75" height="103" fill="#00c000"/>
<line x1="177.1" y1="584.6" x2="177.1" y2="581" stroke="#00c000" stroke-width="1"/>
<line x1="175.1" y1="581" x2="179.1" y2="581" stroke="#00c000" stroke-width="1.2"/>
<rect x="179.48" y="585.7" width="4.75" height="101.9" fill="#ffc285"/>
<line x1="181.85" y1="585.7" x2="181.85" y2="583" stroke="#f8b878" stroke-width="1"/>
<line x1="179.85" y1="583" x2="183.85" y2="583" stroke="#f8b878" stroke-width="1.2"/>
<rect x="184.23" y="553.6" width="4.75" height="134" fill="#c80000"/>
<line x1="186.6" y1="553.6" x2="186.6" y2="549.5" stroke="#dd2222" stroke-width="1"/>
<line x1="184.6" y1="549.5" x2="188.6" y2="549.5" stroke="#dd2222" stroke-width="1.2"/>
<rect x="198.7" y="633.1" width="4.75" height="54.5" fill="#1793b1"/>
<line x1="201.07" y1="633.1" x2="201.07" y2="628.6" stroke="#1b97b6" stroke-width="1"/>
<line x1="199.07" y1="628.6" x2="203.07" y2="628.6" stroke="#1b97b6" stroke-width="1.2"/>
<rect x="203.45" y="638.1" width="4.75" height="49.5" fill="#00c000"/>
<line x1="205.82" y1="638.1" x2="205.82" y2="632" stroke="#00c000" stroke-width="1"/>
<line x1="203.82" y1="632" x2="207.82" y2="632" stroke="#00c000" stroke-width="1.2"/>
<rect x="208.2" y="654.9" width="4.75" height="32.7" fill="#ffc285"/>
<line x1="210.57" y1="654.9" x2="210.57" y2="643" stroke="#f8b878" stroke-width="1"/>
<line x1="208.57" y1="643" x2="212.57" y2="643" stroke="#f8b878" stroke-width="1.2"/>
<rect x="212.95" y="585.3" width="4.75" height="102.3" fill="#c80000"/>
<line x1="215.32" y1="585.3" x2="215.32" y2="579" stroke="#dd2222" stroke-width="1"/>
<line x1="213.32" y1="579" x2="217.32" y2="579" stroke="#dd2222" stroke-width="1.2"/>
<rect x="227.42" y="599.6" width="4.75" height="88" fill="#1793b1"/>
<line x1="229.79" y1="599.6" x2="229.79" y2="597" stroke="#1b97b6" stroke-width="1"/>
<line x1="227.79" y1="597" x2="231.79" y2="597" stroke="#1b97b6" stroke-width="1.2"/>
<rect x="232.17" y="593.5" width="4.75" height="94.1" fill="#00c000"/>
<line x1="234.54" y1="593.5" x2="234.54" y2="588" stroke="#00c000" stroke-width="1"/>
<line x1="232.54" y1="588" x2="236.54" y2="588" stroke="#00c000" stroke-width="1.2"/>
<rect x="236.92" y="605" width="4.75" height="82.6" fill="#ffc285"/>
<line x1="239.29" y1="605" x2="239.29" y2="602" stroke="#f8b878" stroke-width="1"/>
<line x1="237.29" y1="602" x2="241.29" y2="602" stroke="#f8b878" stroke-width="1.2"/>
<rect x="241.67" y="532.1" width="4.75" height="155.5" fill="#c80000"/>
<line x1="244.04" y1="532.1" x2="244.04" y2="529.5" stroke="#dd2222" stroke-width="1"/>
<line x1="242.04" y1="529.5" x2="246.04" y2="529.5" stroke="#dd2222" stroke-width="1.2"/>
<rect x="256.14" y="631.2" width="4.75" height="56.4" fill="#1793b1"/>
<line x1="258.51" y1="631.2" x2="258.51" y2="626" stroke="#1b97b6" stroke-width="1"/>
<line x1="256.51" y1="626" x2="260.51" y2="626" stroke="#1b97b6" stroke-width="1.2"/>
<rect x="260.89" y="632.9" width="4.75" height="54.7" fill="#00c000"/>
<line x1="263.26" y1="632.9" x2="263.26" y2="631" stroke="#00c000" stroke-width="1"/>
<line x1="261.26" y1="631" x2="265.26" y2="631" stroke="#00c000" stroke-width="1.2"/>
<rect x="265.64" y="632.9" width="4.75" height="54.7" fill="#ffc285"/>
<line x1="268.01" y1="632.9" x2="268.01" y2="631" stroke="#f8b878" stroke-width="1"/>
<line x1="266.01" y1="631" x2="270.01" y2="631" stroke="#f8b878" stroke-width="1.2"/>
<rect x="270.39" y="607.9" width="4.75" height="79.7" fill="#c80000"/>
<line x1="272.76" y1="607.9" x2="272.76" y2="604" stroke="#dd2222" stroke-width="1"/>
<line x1="270.76" y1="604" x2="274.76" y2="604" stroke="#dd2222" stroke-width="1.2"/>
<rect x="299.11" y="619" width="4.75" height="68.6" fill="#c80000"/>
<line x1="301.49" y1="619" x2="301.49" y2="614.7" stroke="#dd2222" stroke-width="1"/>
<line x1="299.49" y1="614.7" x2="303.49" y2="614.7" stroke="#dd2222" stroke-width="1.2"/>
<rect x="313.58" y="619.7" width="4.75" height="67.9" fill="#1793b1"/>
<line x1="315.96" y1="619.7" x2="315.96" y2="614.4" stroke="#1b97b6" stroke-width="1"/>
<line x1="313.96" y1="614.4" x2="317.96" y2="614.4" stroke="#1b97b6" stroke-width="1.2"/>
<rect x="318.33" y="622.3" width="4.75" height="65.3" fill="#00c000"/>
<line x1="320.71" y1="622.3" x2="320.71" y2="620" stroke="#00c000" stroke-width="1"/>
<line x1="318.71" y1="620" x2="322.71" y2="620" stroke="#00c000" stroke-width="1.2"/>
<rect x="323.08" y="620.2" width="4.75" height="67.4" fill="#ffc285"/>
<line x1="325.46" y1="620.2" x2="325.46" y2="617" stroke="#f8b878" stroke-width="1"/>
<line x1="323.46" y1="617" x2="327.46" y2="617" stroke="#f8b878" stroke-width="1.2"/>
<rect x="327.83" y="618" width="4.75" height="69.6" fill="#c80000"/>
<line x1="330.21" y1="618" x2="330.21" y2="613.3" stroke="#dd2222" stroke-width="1"/>
<line x1="328.21" y1="613.3" x2="332.21" y2="613.3" stroke="#dd2222" stroke-width="1.2"/>
<rect x="347.05" y="649.9" width="4.75" height="37.7" fill="#00c000"/>
<line x1="349.42" y1="649.9" x2="349.42" y2="638" stroke="#00c000" stroke-width="1"/>
<line x1="347.42" y1="638" x2="351.42" y2="638" stroke="#00c000" stroke-width="1.2"/>
<rect x="356.55" y="604.2" width="4.75" height="83.4" fill="#c80000"/>
<line x1="358.92" y1="604.2" x2="358.92" y2="601.4" stroke="#dd2222" stroke-width="1"/>
<line x1="356.92" y1="601.4" x2="360.92" y2="601.4" stroke="#dd2222" stroke-width="1.2"/>
<rect x="371.02" y="646.7" width="4.75" height="40.9" fill="#1793b1"/>
<line x1="373.39" y1="646.7" x2="373.39" y2="634.8" stroke="#1b97b6" stroke-width="1"/>
<line x1="371.39" y1="634.8" x2="375.39" y2="634.8" stroke="#1b97b6" stroke-width="1.2"/>
<rect x="375.77" y="640.9" width="4.75" height="46.7" fill="#00c000"/>
<line x1="378.14" y1="640.9" x2="378.14" y2="637" stroke="#00c000" stroke-width="1"/>
<line x1="376.14" y1="637" x2="380.14" y2="637" stroke="#00c000" stroke-width="1.2"/>
<rect x="380.52" y="648.8" width="4.75" height="38.8" fill="#ffc285"/>
<line x1="382.89" y1="648.8" x2="382.89" y2="642" stroke="#f8b878" stroke-width="1"/>
<line x1="380.89" y1="642" x2="384.89" y2="642" stroke="#f8b878" stroke-width="1.2"/>
<rect x="385.27" y="600.8" width="4.75" height="86.8" fill="#c80000"/>
<line x1="387.64" y1="600.8" x2="387.64" y2="596.5" stroke="#dd2222" stroke-width="1"/>
<line x1="385.64" y1="596.5" x2="389.64" y2="596.5" stroke="#dd2222" stroke-width="1.2"/>
<rect x="399.74" y="601" width="4.75" height="86.6" fill="#1793b1"/>
<line x1="402.12" y1="601" x2="402.12" y2="593.9" stroke="#1b97b6" stroke-width="1"/>
<line x1="400.12" y1="593.9" x2="404.12" y2="593.9" stroke="#1b97b6" stroke-width="1.2"/>
<rect x="404.49" y="609.4" width="4.75" height="78.2" fill="#00c000"/>
<line x1="406.87" y1="609.4" x2="406.87" y2="607" stroke="#00c000" stroke-width="1"/>
<line x1="404.87" y1="607" x2="408.87" y2="607" stroke="#00c000" stroke-width="1.2"/>
<rect x="409.24" y="606.8" width="4.75" height="80.8" fill="#ffc285"/>
<line x1="411.62" y1="606.8" x2="411.62" y2="602" stroke="#f8b878" stroke-width="1"/>
<line x1="409.62" y1="602" x2="413.62" y2="602" stroke="#f8b878" stroke-width="1.2"/>
<rect x="413.99" y="597.1" width="4.75" height="90.5" fill="#c80000"/>
<line x1="416.37" y1="597.1" x2="416.37" y2="591.3" stroke="#dd2222" stroke-width="1"/>
<line x1="414.37" y1="591.3" x2="418.37" y2="591.3" stroke="#dd2222" stroke-width="1.2"/>
<rect x="428.46" y="587" width="4.75" height="100.6" fill="#1793b1"/>
<line x1="430.84" y1="587" x2="430.84" y2="582.7" stroke="#1b97b6" stroke-width="1"/>
<line x1="428.84" y1="582.7" x2="432.84" y2="582.7" stroke="#1b97b6" stroke-width="1.2"/>
<rect x="433.21" y="597.1" width="4.75" height="90.5" fill="#00c000"/>
<line x1="435.59" y1="597.1" x2="435.59" y2="594" stroke="#00c000" stroke-width="1"/>
<line x1="433.59" y1="594" x2="437.59" y2="594" stroke="#00c000" stroke-width="1.2"/>
<rect x="437.96" y="600.3" width="4.75" height="87.3" fill="#ffc285"/>
<line x1="440.34" y1="600.3" x2="440.34" y2="597" stroke="#f8b878" stroke-width="1"/>
<line x1="438.34" y1="597" x2="442.34" y2="597" stroke="#f8b878" stroke-width="1.2"/>
<rect x="442.71" y="587" width="4.75" height="100.6" fill="#c80000"/>
<line x1="445.09" y1="587" x2="445.09" y2="584.2" stroke="#dd2222" stroke-width="1"/>
<line x1="443.09" y1="584.2" x2="447.09" y2="584.2" stroke="#dd2222" stroke-width="1.2"/>
<rect x="457.18" y="629.4" width="4.75" height="58.2" fill="#1793b1"/>
<line x1="459.55" y1="629.4" x2="459.55" y2="625.1" stroke="#1b97b6" stroke-width="1"/>
<line x1="457.55" y1="625.1" x2="461.55" y2="625.1" stroke="#1b97b6" stroke-width="1.2"/>
<rect x="461.93" y="633.1" width="4.75" height="54.5" fill="#00c000"/>
<line x1="464.3" y1="633.1" x2="464.3" y2="628.8" stroke="#00c000" stroke-width="1"/>
<line x1="462.3" y1="628.8" x2="466.3" y2="628.8" stroke="#00c000" stroke-width="1.2"/>
<rect x="466.68" y="658.5" width="4.75" height="29.1" fill="#ffc285"/>
<line x1="469.05" y1="658.5" x2="469.05" y2="646.7" stroke="#f8b878" stroke-width="1"/>
<line x1="467.05" y1="646.7" x2="471.05" y2="646.7" stroke="#f8b878" stroke-width="1.2"/>
<rect x="471.43" y="579.9" width="4.75" height="107.7" fill="#c80000"/>
<line x1="473.8" y1="579.9" x2="473.8" y2="574.9" stroke="#dd2222" stroke-width="1"/>
<line x1="471.8" y1="574.9" x2="475.8" y2="574.9" stroke="#dd2222" stroke-width="1.2"/>
<rect x="485.9" y="638.1" width="4.75" height="49.5" fill="#1793b1"/>
<line x1="488.27" y1="638.1" x2="488.27" y2="628.8" stroke="#1b97b6" stroke-width="1"/>
<line x1="486.27" y1="628.8" x2="490.27" y2="628.8" stroke="#1b97b6" stroke-width="1.2"/>
<rect x="490.65" y="626.6" width="4.75" height="61" fill="#00c000"/>
<line x1="493.02" y1="626.6" x2="493.02" y2="625.1" stroke="#00c000" stroke-width="1"/>
<line x1="491.02" y1="625.1" x2="495.02" y2="625.1" stroke="#00c000" stroke-width="1.2"/>
<rect x="495.4" y="651.4" width="4.75" height="36.2" fill="#ffc285"/>
<line x1="497.77" y1="651.4" x2="497.77" y2="640.2" stroke="#f8b878" stroke-width="1"/>
<line x1="495.77" y1="640.2" x2="499.77" y2="640.2" stroke="#f8b878" stroke-width="1.2"/>
<rect x="500.15" y="583.8" width="4.75" height="103.8" fill="#c80000"/>
<line x1="502.52" y1="583.8" x2="502.52" y2="579.4" stroke="#dd2222" stroke-width="1"/>
<line x1="500.52" y1="579.4" x2="504.52" y2="579.4" stroke="#dd2222" stroke-width="1.2"/>
<rect x="514.62" y="618" width="4.75" height="69.6" fill="#1793b1"/>
<line x1="517" y1="618" x2="517" y2="613.3" stroke="#1b97b6" stroke-width="1"/>
<line x1="515" y1="613.3" x2="519" y2="613.3" stroke="#1b97b6" stroke-width="1.2"/>
<rect x="519.37" y="616.5" width="4.75" height="71.1" fill="#00c000"/>
<line x1="521.75" y1="616.5" x2="521.75" y2="614" stroke="#00c000" stroke-width="1"/>
<line x1="519.75" y1="614" x2="523.75" y2="614" stroke="#00c000" stroke-width="1.2"/>
<rect x="524.12" y="620.2" width="4.75" height="67.4" fill="#ffc285"/>
<line x1="526.5" y1="620.2" x2="526.5" y2="616" stroke="#f8b878" stroke-width="1"/>
<line x1="524.5" y1="616" x2="528.5" y2="616" stroke="#f8b878" stroke-width="1.2"/>
<rect x="528.87" y="602.1" width="4.75" height="85.5" fill="#c80000"/>
<line x1="531.25" y1="602.1" x2="531.25" y2="598.2" stroke="#dd2222" stroke-width="1"/>
<line x1="529.25" y1="598.2" x2="533.25" y2="598.2" stroke="#dd2222" stroke-width="1.2"/>
<rect x="543.34" y="630.5" width="4.75" height="57.1" fill="#1793b1"/>
<line x1="545.72" y1="630.5" x2="545.72" y2="626.2" stroke="#1b97b6" stroke-width="1"/>
<line x1="543.72" y1="626.2" x2="547.72" y2="626.2" stroke="#1b97b6" stroke-width="1.2"/>
<rect x="548.09" y="638.1" width="4.75" height="49.5" fill="#00c000"/>
<line x1="550.47" y1="638.1" x2="550.47" y2="628.8" stroke="#00c000" stroke-width="1"/>
<line x1="548.47" y1="628.8" x2="552.47" y2="628.8" stroke="#00c000" stroke-width="1.2"/>
<rect x="552.84" y="653.1" width="4.75" height="34.5" fill="#ffc285"/>
<line x1="555.22" y1="653.1" x2="555.22" y2="645.6" stroke="#f8b878" stroke-width="1"/>
<line x1="553.22" y1="645.6" x2="557.22" y2="645.6" stroke="#f8b878" stroke-width="1.2"/>
<rect x="557.59" y="580.5" width="4.75" height="107.1" fill="#c80000"/>
<line x1="559.97" y1="580.5" x2="559.97" y2="577.1" stroke="#dd2222" stroke-width="1"/>
<line x1="557.97" y1="577.1" x2="561.97" y2="577.1" stroke="#dd2222" stroke-width="1.2"/>
<rect x="572.06" y="598.3" width="4.75" height="89.3" fill="#1793b1"/>
<line x1="574.44" y1="598.3" x2="574.44" y2="595" stroke="#1b97b6" stroke-width="1"/>
<line x1="572.44" y1="595" x2="576.44" y2="595" stroke="#1b97b6" stroke-width="1.2"/>
<rect x="576.81" y="596.1" width="4.75" height="91.5" fill="#00c000"/>
<line x1="579.19" y1="596.1" x2="579.19" y2="594" stroke="#00c000" stroke-width="1"/>
<line x1="577.19" y1="594" x2="581.19" y2="594" stroke="#00c000" stroke-width="1.2"/>
<rect x="581.56" y="595" width="4.75" height="92.6" fill="#ffc285"/>
<line x1="583.94" y1="595" x2="583.94" y2="593" stroke="#f8b878" stroke-width="1"/>
<line x1="581.94" y1="593" x2="585.94" y2="593" stroke="#f8b878" stroke-width="1.2"/>
<rect x="586.31" y="568.1" width="4.75" height="119.5" fill="#c80000"/>
<line x1="588.69" y1="568.1" x2="588.69" y2="565.5" stroke="#dd2222" stroke-width="1"/>
<line x1="586.69" y1="565.5" x2="590.69" y2="565.5" stroke="#dd2222" stroke-width="1.2"/>
<rect x="600.78" y="628.1" width="4.75" height="59.5" fill="#1793b1"/>
<line x1="603.15" y1="628.1" x2="603.15" y2="625.9" stroke="#1b97b6" stroke-width="1"/>
<line x1="601.15" y1="625.9" x2="605.15" y2="625.9" stroke="#1b97b6" stroke-width="1.2"/>
<rect x="605.53" y="624.2" width="4.75" height="63.4" fill="#00c000"/>
<line x1="607.9" y1="624.2" x2="607.9" y2="621.6" stroke="#00c000" stroke-width="1"/>
<line x1="605.9" y1="621.6" x2="609.9" y2="621.6" stroke="#00c000" stroke-width="1.2"/>
<rect x="610.28" y="649" width="4.75" height="38.6" fill="#ffc285"/>
<line x1="612.65" y1="649" x2="612.65" y2="641" stroke="#f8b878" stroke-width="1"/>
<line x1="610.65" y1="641" x2="614.65" y2="641" stroke="#f8b878" stroke-width="1.2"/>
<rect x="615.03" y="576.3" width="4.75" height="111.3" fill="#c80000"/>
<line x1="617.4" y1="576.3" x2="617.4" y2="573.5" stroke="#dd2222" stroke-width="1"/>
<line x1="615.4" y1="573.5" x2="619.4" y2="573.5" stroke="#dd2222" stroke-width="1.2"/>
<rect x="629.5" y="617.3" width="4.75" height="70.3" fill="#1793b1"/>
<line x1="631.88" y1="617.3" x2="631.88" y2="615.1" stroke="#1b97b6" stroke-width="1"/>
<line x1="629.88" y1="615.1" x2="633.88" y2="615.1" stroke="#1b97b6" stroke-width="1.2"/>
<rect x="634.25" y="618.8" width="4.75" height="68.8" fill="#00c000"/>
<line x1="636.62" y1="618.8" x2="636.62" y2="615.5" stroke="#00c000" stroke-width="1"/>
<line x1="634.62" y1="615.5" x2="638.62" y2="615.5" stroke="#00c000" stroke-width="1.2"/>
<rect x="643.75" y="569.1" width="4.75" height="118.5" fill="#c80000"/>
<line x1="646.12" y1="569.1" x2="646.12" y2="566.3" stroke="#dd2222" stroke-width="1"/>
<line x1="644.12" y1="566.3" x2="648.12" y2="566.3" stroke="#dd2222" stroke-width="1.2"/>
<rect x="658.22" y="633.2" width="4.75" height="54.4" fill="#1793b1"/>
<line x1="660.6" y1="633.2" x2="660.6" y2="627.4" stroke="#1b97b6" stroke-width="1"/>
<line x1="658.6" y1="627.4" x2="662.6" y2="627.4" stroke="#1b97b6" stroke-width="1.2"/>
<rect x="662.97" y="653.3" width="4.75" height="34.3" fill="#00c000"/>
<line x1="665.35" y1="653.3" x2="665.35" y2="644.7" stroke="#00c000" stroke-width="1"/>
<line x1="663.35" y1="644.7" x2="667.35" y2="644.7" stroke="#00c000" stroke-width="1.2"/>
<rect x="667.72" y="650.5" width="4.75" height="37.1" fill="#ffc285"/>
<line x1="670.1" y1="650.5" x2="670.1" y2="638.9" stroke="#f8b878" stroke-width="1"/>
<line x1="668.1" y1="638.9" x2="672.1" y2="638.9" stroke="#f8b878" stroke-width="1.2"/>
<rect x="672.47" y="582.5" width="4.75" height="105.1" fill="#c80000"/>
<line x1="674.85" y1="582.5" x2="674.85" y2="579.5" stroke="#dd2222" stroke-width="1"/>
<line x1="672.85" y1="579.5" x2="676.85" y2="579.5" stroke="#dd2222" stroke-width="1.2"/>
<circle cx="56.91" cy="593.06" r="0.85" fill="#222"/>
<circle cx="57.96" cy="591.73" r="0.85" fill="#222"/>
<circle cx="57.59" cy="596.72" r="0.85" fill="#222"/>
<circle cx="56.06" cy="599.13" r="0.85" fill="#222"/>
<circle cx="57.34" cy="589.15" r="0.85" fill="#222"/>
<circle cx="60.92" cy="600.12" r="0.85" fill="#222"/>
<circle cx="63.27" cy="595" r="0.85" fill="#222"/>
<circle cx="61.34" cy="603.57" r="0.85" fill="#222"/>
<circle cx="63.66" cy="602.71" r="0.85" fill="#222"/>
<circle cx="63.18" cy="591.37" r="0.85" fill="#222"/>
<circle cx="68.12" cy="603.52" r="0.85" fill="#222"/>
<circle cx="65.84" cy="600.6" r="0.85" fill="#222"/>
<circle cx="66.36" cy="612.47" r="0.85" fill="#222"/>
<circle cx="65.95" cy="608.49" r="0.85" fill="#222"/>
<circle cx="71.32" cy="563.41" r="0.85" fill="#222"/>
<circle cx="70.33" cy="555.11" r="0.85" fill="#222"/>
<circle cx="70.78" cy="565.67" r="0.85" fill="#222"/>
<circle cx="71.72" cy="546.69" r="0.85" fill="#222"/>
<circle cx="85.6" cy="617.45" r="0.85" fill="#222"/>
<circle cx="86.05" cy="612.6" r="0.85" fill="#222"/>
<circle cx="87.14" cy="619.38" r="0.85" fill="#222"/>
<circle cx="85.38" cy="617.27" r="0.85" fill="#222"/>
<circle cx="86.95" cy="604.05" r="0.85" fill="#222"/>
<circle cx="90.27" cy="623.66" r="0.85" fill="#222"/>
<circle cx="89.72" cy="614.11" r="0.85" fill="#222"/>
<circle cx="91.77" cy="609.58" r="0.85" fill="#222"/>
<circle cx="90.91" cy="607.67" r="0.85" fill="#222"/>
<circle cx="96.54" cy="620.44" r="0.85" fill="#222"/>
<circle cx="96.9" cy="616.03" r="0.85" fill="#222"/>
<circle cx="96.32" cy="620.8" r="0.85" fill="#222"/>
<circle cx="95.95" cy="618.46" r="0.85" fill="#222"/>
<circle cx="101.87" cy="572.16" r="0.85" fill="#222"/>
<circle cx="100.97" cy="565.13" r="0.85" fill="#222"/>
<circle cx="101.09" cy="575.1" r="0.85" fill="#222"/>
<circle cx="100.44" cy="553.33" r="0.85" fill="#222"/>
<circle cx="115.95" cy="639.04" r="0.85" fill="#222"/>
<circle cx="114.55" cy="645.57" r="0.85" fill="#222"/>
<circle cx="113.39" cy="642.05" r="0.85" fill="#222"/>
<circle cx="113.85" cy="636.19" r="0.85" fill="#222"/>
<circle cx="115.45" cy="633.85" r="0.85" fill="#222"/>
<circle cx="118.86" cy="633.95" r="0.85" fill="#222"/>
<circle cx="120.85" cy="628.67" r="0.85" fill="#222"/>
<circle cx="119.5" cy="636.64" r="0.85" fill="#222"/>
<circle cx="120.89" cy="641.23" r="0.85" fill="#222"/>
<circle cx="123.71" cy="658.26" r="0.85" fill="#222"/>
<circle cx="123.96" cy="666.23" r="0.85" fill="#222"/>
<circle cx="125.88" cy="653.77" r="0.85" fill="#222"/>
<circle cx="123.38" cy="655.14" r="0.85" fill="#222"/>
<circle cx="124.38" cy="640.05" r="0.85" fill="#222"/>
<circle cx="128.41" cy="595.07" r="0.85" fill="#222"/>
<circle cx="128.91" cy="601.28" r="0.85" fill="#222"/>
<circle cx="129.38" cy="611.2" r="0.85" fill="#222"/>
<circle cx="129.16" cy="587.74" r="0.85" fill="#222"/>
<circle cx="143.68" cy="638.8" r="0.85" fill="#222"/>
<circle cx="144.2" cy="629.22" r="0.85" fill="#222"/>
<circle cx="144.91" cy="641.56" r="0.85" fill="#222"/>
<circle cx="144.83" cy="641.86" r="0.85" fill="#222"/>
<circle cx="143.43" cy="627.48" r="0.85" fill="#222"/>
<circle cx="148.81" cy="625.46" r="0.85" fill="#222"/>
<circle cx="147" cy="627.95" r="0.85" fill="#222"/>
<circle cx="147.3" cy="630.18" r="0.85" fill="#222"/>
<circle cx="146.95" cy="624.4" r="0.85" fill="#222"/>
<circle cx="147.59" cy="622.18" r="0.85" fill="#222"/>
<circle cx="151.62" cy="641.46" r="0.85" fill="#222"/>
<circle cx="153.5" cy="629.13" r="0.85" fill="#222"/>
<circle cx="152.34" cy="632.51" r="0.85" fill="#222"/>
<circle cx="152.7" cy="628.69" r="0.85" fill="#222"/>
<circle cx="159.46" cy="599.42" r="0.85" fill="#222"/>
<circle cx="157.83" cy="592.96" r="0.85" fill="#222"/>
<circle cx="156.61" cy="597.32" r="0.85" fill="#222"/>
<circle cx="157.88" cy="585.94" r="0.85" fill="#222"/>
<circle cx="173.41" cy="580.84" r="0.85" fill="#222"/>
<circle cx="170.83" cy="594.27" r="0.85" fill="#222"/>
<circle cx="172.45" cy="580.59" r="0.85" fill="#222"/>
<circle cx="172.49" cy="578.56" r="0.85" fill="#222"/>
<circle cx="173.31" cy="572.68" r="0.85" fill="#222"/>
<circle cx="177.73" cy="584.04" r="0.85" fill="#222"/>
<circle cx="176.68" cy="582.44" r="0.85" fill="#222"/>
<circle cx="177.98" cy="588.65" r="0.85" fill="#222"/>
<circle cx="178" cy="585.2" r="0.85" fill="#222"/>
<circle cx="177.73" cy="574.08" r="0.85" fill="#222"/>
<circle cx="182.98" cy="594.4" r="0.85" fill="#222"/>
<circle cx="182.87" cy="593.28" r="0.85" fill="#222"/>
<circle cx="180.98" cy="589.5" r="0.85" fill="#222"/>
<circle cx="181.39" cy="581.19" r="0.85" fill="#222"/>
<circle cx="181.41" cy="579.7" r="0.85" fill="#222"/>
<circle cx="187.22" cy="564.86" r="0.85" fill="#222"/>
<circle cx="186.44" cy="564.53" r="0.85" fill="#222"/>
<circle cx="188.17" cy="564.84" r="0.85" fill="#222"/>
<circle cx="186.6" cy="543.04" r="0.85" fill="#222"/>
<circle cx="200.18" cy="631.96" r="0.85" fill="#222"/>
<circle cx="200.1" cy="631.57" r="0.85" fill="#222"/>
<circle cx="201.47" cy="643.41" r="0.85" fill="#222"/>
<circle cx="202.16" cy="636.25" r="0.85" fill="#222"/>
<circle cx="206.78" cy="634.54" r="0.85" fill="#222"/>
<circle cx="206.34" cy="648.57" r="0.85" fill="#222"/>
<circle cx="206.73" cy="645.85" r="0.85" fill="#222"/>
<circle cx="205.75" cy="636.13" r="0.85" fill="#222"/>
<circle cx="210.04" cy="663.51" r="0.85" fill="#222"/>
<circle cx="212.08" cy="656.63" r="0.85" fill="#222"/>
<circle cx="210.26" cy="666" r="0.85" fill="#222"/>
<circle cx="211.29" cy="652.79" r="0.85" fill="#222"/>
<circle cx="209.88" cy="636.48" r="0.85" fill="#222"/>
<circle cx="216.31" cy="582.78" r="0.85" fill="#222"/>
<circle cx="216.37" cy="596.97" r="0.85" fill="#222"/>
<circle cx="215.83" cy="586.26" r="0.85" fill="#222"/>
<circle cx="215.32" cy="571.81" r="0.85" fill="#222"/>
<circle cx="228.61" cy="594.84" r="0.85" fill="#222"/>
<circle cx="231.3" cy="605.64" r="0.85" fill="#222"/>
<circle cx="229.88" cy="610.47" r="0.85" fill="#222"/>
<circle cx="229.58" cy="609.42" r="0.85" fill="#222"/>
<circle cx="233.62" cy="592.78" r="0.85" fill="#222"/>
<circle cx="233.88" cy="592.59" r="0.85" fill="#222"/>
<circle cx="234.82" cy="592.91" r="0.85" fill="#222"/>
<circle cx="234.29" cy="590.73" r="0.85" fill="#222"/>
<circle cx="238.83" cy="607.79" r="0.85" fill="#222"/>
<circle cx="239.56" cy="615.37" r="0.85" fill="#222"/>
<circle cx="239.04" cy="615.6" r="0.85" fill="#222"/>
<circle cx="239.3" cy="609.04" r="0.85" fill="#222"/>
<circle cx="238.33" cy="597.8" r="0.85" fill="#222"/>
<circle cx="243.03" cy="527.17" r="0.85" fill="#222"/>
<circle cx="245" cy="530.03" r="0.85" fill="#222"/>
<circle cx="243.96" cy="539.43" r="0.85" fill="#222"/>
<circle cx="244.04" cy="522.27" r="0.85" fill="#222"/>
<circle cx="257.96" cy="635.01" r="0.85" fill="#222"/>
<circle cx="258.69" cy="639.53" r="0.85" fill="#222"/>
<circle cx="257.25" cy="635.73" r="0.85" fill="#222"/>
<circle cx="257.71" cy="630.91" r="0.85" fill="#222"/>
<circle cx="263.29" cy="637.45" r="0.85" fill="#222"/>
<circle cx="264.1" cy="643.41" r="0.85" fill="#222"/>
<circle cx="263.08" cy="638.31" r="0.85" fill="#222"/>
<circle cx="263.28" cy="636.61" r="0.85" fill="#222"/>
<circle cx="267.86" cy="636.97" r="0.85" fill="#222"/>
<circle cx="267.94" cy="643.91" r="0.85" fill="#222"/>
<circle cx="268.65" cy="642.8" r="0.85" fill="#222"/>
<circle cx="269.43" cy="632.31" r="0.85" fill="#222"/>
<circle cx="268.9" cy="624.8" r="0.85" fill="#222"/>
<circle cx="271.6" cy="604.97" r="0.85" fill="#222"/>
<circle cx="272.58" cy="604.13" r="0.85" fill="#222"/>
<circle cx="271.94" cy="604.14" r="0.85" fill="#222"/>
<circle cx="272.76" cy="596.32" r="0.85" fill="#222"/>
<circle cx="302.39" cy="629.25" r="0.85" fill="#222"/>
<circle cx="300.38" cy="626.17" r="0.85" fill="#222"/>
<circle cx="302" cy="616.43" r="0.85" fill="#222"/>
<circle cx="301.49" cy="606.17" r="0.85" fill="#222"/>
<circle cx="317.45" cy="618.43" r="0.85" fill="#222"/>
<circle cx="317.4" cy="621.47" r="0.85" fill="#222"/>
<circle cx="315.91" cy="631.53" r="0.85" fill="#222"/>
<circle cx="317.02" cy="617.44" r="0.85" fill="#222"/>
<circle cx="315.99" cy="610.7" r="0.85" fill="#222"/>
<circle cx="319.73" cy="622.71" r="0.85" fill="#222"/>
<circle cx="321.42" cy="617.63" r="0.85" fill="#222"/>
<circle cx="320.88" cy="624.79" r="0.85" fill="#222"/>
<circle cx="319.16" cy="622.94" r="0.85" fill="#222"/>
<circle cx="325.49" cy="616.29" r="0.85" fill="#222"/>
<circle cx="327.01" cy="628.6" r="0.85" fill="#222"/>
<circle cx="326.96" cy="616.98" r="0.85" fill="#222"/>
<circle cx="324.7" cy="615.87" r="0.85" fill="#222"/>
<circle cx="329.47" cy="615.2" r="0.85" fill="#222"/>
<circle cx="329.96" cy="628.49" r="0.85" fill="#222"/>
<circle cx="331.23" cy="617.4" r="0.85" fill="#222"/>
<circle cx="330.21" cy="607.7" r="0.85" fill="#222"/>
<circle cx="350.77" cy="654.6" r="0.85" fill="#222"/>
<circle cx="350.07" cy="646.42" r="0.85" fill="#222"/>
<circle cx="348.01" cy="656.6" r="0.85" fill="#222"/>
<circle cx="349.19" cy="646.13" r="0.85" fill="#222"/>
<circle cx="359.36" cy="612.83" r="0.85" fill="#222"/>
<circle cx="357.59" cy="613.76" r="0.85" fill="#222"/>
<circle cx="357.54" cy="613.87" r="0.85" fill="#222"/>
<circle cx="358.92" cy="594.58" r="0.85" fill="#222"/>
<circle cx="372.88" cy="651.1" r="0.85" fill="#222"/>
<circle cx="374.76" cy="646.25" r="0.85" fill="#222"/>
<circle cx="372.21" cy="650.66" r="0.85" fill="#222"/>
<circle cx="372.56" cy="643.56" r="0.85" fill="#222"/>
<circle cx="372.5" cy="631.79" r="0.85" fill="#222"/>
<circle cx="377.54" cy="641.09" r="0.85" fill="#222"/>
<circle cx="378.98" cy="640.83" r="0.85" fill="#222"/>
<circle cx="378.15" cy="638.92" r="0.85" fill="#222"/>
<circle cx="377.66" cy="636.21" r="0.85" fill="#222"/>
<circle cx="377.18" cy="631.33" r="0.85" fill="#222"/>
<circle cx="383.06" cy="647.02" r="0.85" fill="#222"/>
<circle cx="382.81" cy="659.69" r="0.85" fill="#222"/>
<circle cx="381.64" cy="657.72" r="0.85" fill="#222"/>
<circle cx="382.68" cy="652.22" r="0.85" fill="#222"/>
<circle cx="387.3" cy="604.41" r="0.85" fill="#222"/>
<circle cx="388.25" cy="612.5" r="0.85" fill="#222"/>
<circle cx="387.14" cy="609.95" r="0.85" fill="#222"/>
<circle cx="387.64" cy="588.67" r="0.85" fill="#222"/>
<circle cx="402.55" cy="602.88" r="0.85" fill="#222"/>
<circle cx="401.63" cy="596.92" r="0.85" fill="#222"/>
<circle cx="400.93" cy="597.2" r="0.85" fill="#222"/>
<circle cx="402.89" cy="600.35" r="0.85" fill="#222"/>
<circle cx="401.28" cy="587.69" r="0.85" fill="#222"/>
<circle cx="408.05" cy="615.8" r="0.85" fill="#222"/>
<circle cx="406.17" cy="608.52" r="0.85" fill="#222"/>
<circle cx="406.2" cy="612.21" r="0.85" fill="#222"/>
<circle cx="405.77" cy="611.98" r="0.85" fill="#222"/>
<circle cx="407.79" cy="600.14" r="0.85" fill="#222"/>
<circle cx="411.77" cy="605.96" r="0.85" fill="#222"/>
<circle cx="413.11" cy="607.06" r="0.85" fill="#222"/>
<circle cx="411.16" cy="601.82" r="0.85" fill="#222"/>
<circle cx="411.24" cy="609.87" r="0.85" fill="#222"/>
<circle cx="411.02" cy="597.48" r="0.85" fill="#222"/>
<circle cx="414.78" cy="596.59" r="0.85" fill="#222"/>
<circle cx="415.05" cy="598.89" r="0.85" fill="#222"/>
<circle cx="414.9" cy="592.48" r="0.85" fill="#222"/>
<circle cx="416.37" cy="585.08" r="0.85" fill="#222"/>
<circle cx="429.98" cy="591.95" r="0.85" fill="#222"/>
<circle cx="430.93" cy="594.76" r="0.85" fill="#222"/>
<circle cx="431.34" cy="594.17" r="0.85" fill="#222"/>
<circle cx="432.05" cy="588.62" r="0.85" fill="#222"/>
<circle cx="431.8" cy="579.95" r="0.85" fill="#222"/>
<circle cx="436.3" cy="603.03" r="0.85" fill="#222"/>
<circle cx="434.13" cy="606.3" r="0.85" fill="#222"/>
<circle cx="436.84" cy="602.76" r="0.85" fill="#222"/>
<circle cx="436.33" cy="605.91" r="0.85" fill="#222"/>
<circle cx="435.63" cy="589.48" r="0.85" fill="#222"/>
<circle cx="441.41" cy="608.98" r="0.85" fill="#222"/>
<circle cx="441.38" cy="605.23" r="0.85" fill="#222"/>
<circle cx="441.59" cy="606.91" r="0.85" fill="#222"/>
<circle cx="440.95" cy="599.21" r="0.85" fill="#222"/>
<circle cx="439.6" cy="593.2" r="0.85" fill="#222"/>
<circle cx="443.82" cy="596.21" r="0.85" fill="#222"/>
<circle cx="445.27" cy="592.67" r="0.85" fill="#222"/>
<circle cx="445.49" cy="593.57" r="0.85" fill="#222"/>
<circle cx="445.09" cy="577.24" r="0.85" fill="#222"/>
<circle cx="457.97" cy="637.96" r="0.85" fill="#222"/>
<circle cx="460.35" cy="632.95" r="0.85" fill="#222"/>
<circle cx="459.67" cy="635.61" r="0.85" fill="#222"/>
<circle cx="458.17" cy="636.93" r="0.85" fill="#222"/>
<circle cx="458.7" cy="621.77" r="0.85" fill="#222"/>
<circle cx="465.04" cy="631.59" r="0.85" fill="#222"/>
<circle cx="465.07" cy="644.69" r="0.85" fill="#222"/>
<circle cx="464.29" cy="634.6" r="0.85" fill="#222"/>
<circle cx="464.24" cy="639.72" r="0.85" fill="#222"/>
<circle cx="469.43" cy="664.43" r="0.85" fill="#222"/>
<circle cx="467.7" cy="656.01" r="0.85" fill="#222"/>
<circle cx="468.27" cy="666.13" r="0.85" fill="#222"/>
<circle cx="468.43" cy="663.15" r="0.85" fill="#222"/>
<circle cx="468.18" cy="643.36" r="0.85" fill="#222"/>
<circle cx="474.36" cy="586.67" r="0.85" fill="#222"/>
<circle cx="474.37" cy="579.84" r="0.85" fill="#222"/>
<circle cx="473.86" cy="582.8" r="0.85" fill="#222"/>
<circle cx="473.8" cy="568.03" r="0.85" fill="#222"/>
<circle cx="487.05" cy="648.29" r="0.85" fill="#222"/>
<circle cx="487.31" cy="649.73" r="0.85" fill="#222"/>
<circle cx="489.67" cy="633.4" r="0.85" fill="#222"/>
<circle cx="488.14" cy="647.04" r="0.85" fill="#222"/>
<circle cx="492.86" cy="626.17" r="0.85" fill="#222"/>
<circle cx="492.1" cy="637.67" r="0.85" fill="#222"/>
<circle cx="492.1" cy="631.49" r="0.85" fill="#222"/>
<circle cx="491.88" cy="630.51" r="0.85" fill="#222"/>
<circle cx="496.6" cy="660.34" r="0.85" fill="#222"/>
<circle cx="497.8" cy="661.48" r="0.85" fill="#222"/>
<circle cx="498.43" cy="650.33" r="0.85" fill="#222"/>
<circle cx="499.05" cy="654.66" r="0.85" fill="#222"/>
<circle cx="496.78" cy="635.74" r="0.85" fill="#222"/>
<circle cx="502.37" cy="583.93" r="0.85" fill="#222"/>
<circle cx="501.38" cy="584.65" r="0.85" fill="#222"/>
<circle cx="501.94" cy="593.08" r="0.85" fill="#222"/>
<circle cx="502.52" cy="574.39" r="0.85" fill="#222"/>
<circle cx="517.8" cy="627.26" r="0.85" fill="#222"/>
<circle cx="515.78" cy="628.75" r="0.85" fill="#222"/>
<circle cx="517.68" cy="628.33" r="0.85" fill="#222"/>
<circle cx="516.32" cy="619.33" r="0.85" fill="#222"/>
<circle cx="517.99" cy="608.35" r="0.85" fill="#222"/>
<circle cx="521.3" cy="618.78" r="0.85" fill="#222"/>
<circle cx="521.03" cy="612.32" r="0.85" fill="#222"/>
<circle cx="520.47" cy="625.69" r="0.85" fill="#222"/>
<circle cx="521.06" cy="627.41" r="0.85" fill="#222"/>
<circle cx="521.28" cy="609.45" r="0.85" fill="#222"/>
<circle cx="525.5" cy="621.55" r="0.85" fill="#222"/>
<circle cx="527.95" cy="630.23" r="0.85" fill="#222"/>
<circle cx="527.49" cy="625.93" r="0.85" fill="#222"/>
<circle cx="527.82" cy="631.19" r="0.85" fill="#222"/>
<circle cx="526.93" cy="613.75" r="0.85" fill="#222"/>
<circle cx="531.99" cy="604.76" r="0.85" fill="#222"/>
<circle cx="532.05" cy="608.06" r="0.85" fill="#222"/>
<circle cx="530.56" cy="597.93" r="0.85" fill="#222"/>
<circle cx="531.25" cy="589.49" r="0.85" fill="#222"/>
<circle cx="544.52" cy="633.53" r="0.85" fill="#222"/>
<circle cx="545.21" cy="630.56" r="0.85" fill="#222"/>
<circle cx="546.48" cy="642.1" r="0.85" fill="#222"/>
<circle cx="544.95" cy="636.65" r="0.85" fill="#222"/>
<circle cx="545.83" cy="622.23" r="0.85" fill="#222"/>
<circle cx="549.4" cy="635.85" r="0.85" fill="#222"/>
<circle cx="549.53" cy="648.5" r="0.85" fill="#222"/>
<circle cx="550.46" cy="636.84" r="0.85" fill="#222"/>
<circle cx="551.77" cy="650.04" r="0.85" fill="#222"/>
<circle cx="549.74" cy="625.84" r="0.85" fill="#222"/>
<circle cx="553.91" cy="653.91" r="0.85" fill="#222"/>
<circle cx="553.91" cy="652.17" r="0.85" fill="#222"/>
<circle cx="554.44" cy="657.78" r="0.85" fill="#222"/>
<circle cx="556.45" cy="660.84" r="0.85" fill="#222"/>
<circle cx="555.04" cy="640.98" r="0.85" fill="#222"/>
<circle cx="559.57" cy="581.25" r="0.85" fill="#222"/>
<circle cx="558.56" cy="580.22" r="0.85" fill="#222"/>
<circle cx="561.46" cy="577.64" r="0.85" fill="#222"/>
<circle cx="559.97" cy="570.09" r="0.85" fill="#222"/>
<circle cx="574.85" cy="607.97" r="0.85" fill="#222"/>
<circle cx="573.53" cy="597.91" r="0.85" fill="#222"/>
<circle cx="573.63" cy="600.1" r="0.85" fill="#222"/>
<circle cx="574.26" cy="609.52" r="0.85" fill="#222"/>
<circle cx="580.38" cy="591.47" r="0.85" fill="#222"/>
<circle cx="577.69" cy="603.16" r="0.85" fill="#222"/>
<circle cx="580.45" cy="599.15" r="0.85" fill="#222"/>
<circle cx="579.46" cy="591.1" r="0.85" fill="#222"/>
<circle cx="580.04" cy="587.87" r="0.85" fill="#222"/>
<circle cx="585.07" cy="606.53" r="0.85" fill="#222"/>
<circle cx="583.13" cy="591.85" r="0.85" fill="#222"/>
<circle cx="582.83" cy="598.88" r="0.85" fill="#222"/>
<circle cx="584.52" cy="606.01" r="0.85" fill="#222"/>
<circle cx="589.16" cy="576.1" r="0.85" fill="#222"/>
<circle cx="588.55" cy="572.48" r="0.85" fill="#222"/>
<circle cx="587.21" cy="576.4" r="0.85" fill="#222"/>
<circle cx="588.69" cy="559.57" r="0.85" fill="#222"/>
<circle cx="604.5" cy="634.07" r="0.85" fill="#222"/>
<circle cx="602.53" cy="625.28" r="0.85" fill="#222"/>
<circle cx="602.36" cy="633.92" r="0.85" fill="#222"/>
<circle cx="603.79" cy="625.01" r="0.85" fill="#222"/>
<circle cx="603.2" cy="620.99" r="0.85" fill="#222"/>
<circle cx="607.55" cy="623" r="0.85" fill="#222"/>
<circle cx="608.23" cy="619.38" r="0.85" fill="#222"/>
<circle cx="607.27" cy="627.03" r="0.85" fill="#222"/>
<circle cx="609.37" cy="630.16" r="0.85" fill="#222"/>
<circle cx="612.58" cy="647.99" r="0.85" fill="#222"/>
<circle cx="611.85" cy="660.33" r="0.85" fill="#222"/>
<circle cx="613.31" cy="649.23" r="0.85" fill="#222"/>
<circle cx="611.12" cy="652.47" r="0.85" fill="#222"/>
<circle cx="617.15" cy="575.67" r="0.85" fill="#222"/>
<circle cx="617.94" cy="587.03" r="0.85" fill="#222"/>
<circle cx="616.53" cy="571.88" r="0.85" fill="#222"/>
<circle cx="617.4" cy="567.15" r="0.85" fill="#222"/>
<circle cx="631.62" cy="623.9" r="0.85" fill="#222"/>
<circle cx="630.91" cy="625.85" r="0.85" fill="#222"/>
<circle cx="632.64" cy="620.88" r="0.85" fill="#222"/>
<circle cx="630.93" cy="628.79" r="0.85" fill="#222"/>
<circle cx="632.52" cy="611.95" r="0.85" fill="#222"/>
<circle cx="635.73" cy="626.73" r="0.85" fill="#222"/>
<circle cx="635.97" cy="629.98" r="0.85" fill="#222"/>
<circle cx="636.61" cy="616.98" r="0.85" fill="#222"/>
<circle cx="635.74" cy="620.89" r="0.85" fill="#222"/>
<circle cx="647.56" cy="566.59" r="0.85" fill="#222"/>
<circle cx="645.78" cy="567.72" r="0.85" fill="#222"/>
<circle cx="647.64" cy="566.51" r="0.85" fill="#222"/>
<circle cx="646.12" cy="561.09" r="0.85" fill="#222"/>
<circle cx="659.19" cy="634.89" r="0.85" fill="#222"/>
<circle cx="661.87" cy="643.22" r="0.85" fill="#222"/>
<circle cx="661.34" cy="645.16" r="0.85" fill="#222"/>
<circle cx="661.98" cy="633.8" r="0.85" fill="#222"/>
<circle cx="661.47" cy="621.67" r="0.85" fill="#222"/>
<circle cx="663.85" cy="659.6" r="0.85" fill="#222"/>
<circle cx="664.96" cy="654.66" r="0.85" fill="#222"/>
<circle cx="664.81" cy="651.18" r="0.85" fill="#222"/>
<circle cx="663.75" cy="653.06" r="0.85" fill="#222"/>
<circle cx="666.26" cy="642.08" r="0.85" fill="#222"/>
<circle cx="671.58" cy="649.03" r="0.85" fill="#222"/>
<circle cx="669.64" cy="659.47" r="0.85" fill="#222"/>
<circle cx="671.13" cy="652.85" r="0.85" fill="#222"/>
<circle cx="668.65" cy="653.55" r="0.85" fill="#222"/>
<circle cx="670.93" cy="635.93" r="0.85" fill="#222"/>
<circle cx="674.41" cy="592.75" r="0.85" fill="#222"/>
<circle cx="673.34" cy="584.48" r="0.85" fill="#222"/>
<circle cx="675.84" cy="590.53" r="0.85" fill="#222"/>
<circle cx="674.85" cy="574.34" r="0.85" fill="#222"/>
<line x1="52.6" y1="499.3" x2="52.6" y2="687.6" stroke="#111" stroke-width="1.4"/>
<line x1="52.6" y1="687.6" x2="679.4" y2="687.6" stroke="#111" stroke-width="1.5"/>
<line x1="49" y1="499.6" x2="52.6" y2="499.6" stroke="#111" stroke-width="1.2"/>
<text x="43.3" y="502.4" font-size="8.8" text-anchor="end" stroke="#111" stroke-width="0.22">10</text>
<text x="43.6" y="499.8" font-size="5.8" stroke="#111" stroke-width="0.22">3</text>
<line x1="49" y1="537.22" x2="52.6" y2="537.22" stroke="#111" stroke-width="1.2"/>
<text x="43.3" y="540.02" font-size="8.8" text-anchor="end" stroke="#111" stroke-width="0.22">10</text>
<text x="43.6" y="537.42" font-size="5.8" stroke="#111" stroke-width="0.22">2</text>
<line x1="49" y1="574.84" x2="52.6" y2="574.84" stroke="#111" stroke-width="1.2"/>
<text x="43.3" y="577.64" font-size="8.8" text-anchor="end" stroke="#111" stroke-width="0.22">10</text>
<text x="43.6" y="575.04" font-size="5.8" stroke="#111" stroke-width="0.22">1</text>
<line x1="49" y1="612.46" x2="52.6" y2="612.46" stroke="#111" stroke-width="1.2"/>
<text x="43.3" y="615.26" font-size="8.8" text-anchor="end" stroke="#111" stroke-width="0.22">10</text>
<text x="43.6" y="612.66" font-size="5.8" stroke="#111" stroke-width="0.22">0</text>
<line x1="49" y1="650.08" x2="52.6" y2="650.08" stroke="#111" stroke-width="1.2"/>
<text x="43.3" y="652.88" font-size="8.8" text-anchor="end" stroke="#111" stroke-width="0.22">10</text>
<text x="43.6" y="650.28" font-size="5.8" stroke="#111" stroke-width="0.22">-1</text>
<line x1="49" y1="687.7" x2="52.6" y2="687.7" stroke="#111" stroke-width="1.2"/>
<text x="43.3" y="690.5" font-size="8.8" text-anchor="end" stroke="#111" stroke-width="0.22">10</text>
<text x="43.6" y="687.9" font-size="5.8" stroke="#111" stroke-width="0.22">-2</text>
<line x1="64.6" y1="687.6" x2="64.6" y2="690.8" stroke="#111" stroke-width="1.2"/>
<line x1="93.32" y1="687.6" x2="93.32" y2="690.8" stroke="#111" stroke-width="1.2"/>
<line x1="122.04" y1="687.6" x2="122.04" y2="690.8" stroke="#111" stroke-width="1.2"/>
<line x1="150.76" y1="687.6" x2="150.76" y2="690.8" stroke="#111" stroke-width="1.2"/>
<line x1="179.48" y1="687.6" x2="179.48" y2="690.8" stroke="#111" stroke-width="1.2"/>
<line x1="208.2" y1="687.6" x2="208.2" y2="690.8" stroke="#111" stroke-width="1.2"/>
<line x1="236.92" y1="687.6" x2="236.92" y2="690.8" stroke="#111" stroke-width="1.2"/>
<line x1="265.64" y1="687.6" x2="265.64" y2="690.8" stroke="#111" stroke-width="1.2"/>
<line x1="294.36" y1="687.6" x2="294.36" y2="690.8" stroke="#111" stroke-width="1.2"/>
<line x1="323.08" y1="687.6" x2="323.08" y2="690.8" stroke="#111" stroke-width="1.2"/>
<line x1="351.8" y1="687.6" x2="351.8" y2="690.8" stroke="#111" stroke-width="1.2"/>
<line x1="380.52" y1="687.6" x2="380.52" y2="690.8" stroke="#111" stroke-width="1.2"/>
<line x1="409.24" y1="687.6" x2="409.24" y2="690.8" stroke="#111" stroke-width="1.2"/>
<line x1="437.96" y1="687.6" x2="437.96" y2="690.8" stroke="#111" stroke-width="1.2"/>
<line x1="466.68" y1="687.6" x2="466.68" y2="690.8" stroke="#111" stroke-width="1.2"/>
<line x1="495.4" y1="687.6" x2="495.4" y2="690.8" stroke="#111" stroke-width="1.2"/>
<line x1="524.12" y1="687.6" x2="524.12" y2="690.8" stroke="#111" stroke-width="1.2"/>
<line x1="552.84" y1="687.6" x2="552.84" y2="690.8" stroke="#111" stroke-width="1.2"/>
<line x1="581.56" y1="687.6" x2="581.56" y2="690.8" stroke="#111" stroke-width="1.2"/>
<line x1="610.28" y1="687.6" x2="610.28" y2="690.8" stroke="#111" stroke-width="1.2"/>
<line x1="639" y1="687.6" x2="639" y2="690.8" stroke="#111" stroke-width="1.2"/>
<line x1="667.72" y1="687.6" x2="667.72" y2="690.8" stroke="#111" stroke-width="1.2"/>
<rect x="282.1" y="508.6" width="16.5" height="7.9" fill="#1793b1"/>
<text x="302.6" y="516.1" font-size="10" stroke="#111" stroke-width="0.22">Con</text>
<rect x="282.1" y="522.75" width="16.5" height="7.9" fill="#00c000"/>
<text x="302.6" y="530.25" font-size="10" stroke="#111" stroke-width="0.22">N</text>
<rect x="282.1" y="536.9" width="16.5" height="7.9" fill="#ffc285"/>
<text x="302.6" y="544.4" font-size="10" stroke="#111" stroke-width="0.22">NF</text>
<rect x="282.1" y="551.05" width="16.5" height="7.9" fill="#c80000"/>
<text x="302.6" y="558.55" font-size="10" stroke="#111" stroke-width="0.22">GF</text>
<text x="16.2" y="592.7" font-size="9.6" text-anchor="middle" stroke="#111" stroke-width="0.22" transform="rotate(-90 16.2 592.7)" textLength="92.8" lengthAdjust="spacingAndGlyphs">Relative amount of VOC</text>
<text x="28.3" y="588.05" font-size="9.6" text-anchor="middle" stroke="#111" stroke-width="0.22" transform="rotate(-90 28.3 588.05)" textLength="74.9" lengthAdjust="spacingAndGlyphs">(% of IS peak area)</text>
<text x="67.1" y="699.3" font-size="9.4" text-anchor="end" stroke="#111" stroke-width="0.22" transform="rotate(-29 67.1 699.3)" textLength="48.53" lengthAdjust="spacingAndGlyphs">2-heptanone</text>
<text x="94.32" y="699.3" font-size="9.4" text-anchor="end" stroke="#111" stroke-width="0.22" transform="rotate(-29 94.32 699.3)" textLength="40.85" lengthAdjust="spacingAndGlyphs">2-heptanol</text>
<text x="121.04" y="699.3" font-size="9.4" text-anchor="end" stroke="#111" stroke-width="0.22" transform="rotate(-29 121.04 699.3)" textLength="36.22" lengthAdjust="spacingAndGlyphs">α-thujene</text>
<text x="151.26" y="699.3" font-size="9.4" text-anchor="end" stroke="#111" stroke-width="0.22" transform="rotate(-29 151.26 699.3)" textLength="33.82" lengthAdjust="spacingAndGlyphs">α-pinene</text>
<text x="178.28" y="699.3" font-size="9.4" text-anchor="end" stroke="#111" stroke-width="0.22" transform="rotate(-29 178.28 699.3)" textLength="48.75" lengthAdjust="spacingAndGlyphs">(+)-limonene</text>
<text x="206.6" y="699.3" font-size="9.4" text-anchor="end" stroke="#111" stroke-width="0.22" transform="rotate(-29 206.6 699.3)" textLength="64.37" lengthAdjust="spacingAndGlyphs">(<tspan font-style="italic">E</tspan>)-linalool oxide</text>
<text x="239.12" y="699.3" font-size="9.4" text-anchor="end" stroke="#111" stroke-width="0.22" transform="rotate(-29 239.12 699.3)" textLength="63.39" lengthAdjust="spacingAndGlyphs">methyl salicylate</text>
<text x="266.64" y="700" font-size="9.4" text-anchor="end" stroke="#111" stroke-width="0.22" transform="rotate(-29 266.64 700)" textLength="26.91" lengthAdjust="spacingAndGlyphs">linalool</text>
<text x="292.36" y="700" font-size="9.4" text-anchor="end" stroke="#111" stroke-width="0.22" transform="rotate(-29 292.36 700)" textLength="39.41" lengthAdjust="spacingAndGlyphs">unknown1</text>
<text x="322.48" y="700" font-size="9.4" text-anchor="end" stroke="#111" stroke-width="0.22" transform="rotate(-29 322.48 700)" textLength="41.81" lengthAdjust="spacingAndGlyphs">unknown 2</text>
<text x="351.5" y="700" font-size="9.4" text-anchor="end" stroke="#111" stroke-width="0.22" transform="rotate(-29 351.5 700)" textLength="41.02" lengthAdjust="spacingAndGlyphs">α-copaene</text>
<text x="385.02" y="700" font-size="9.4" text-anchor="end" stroke="#111" stroke-width="0.22" transform="rotate(-29 385.02 700)" textLength="53.33" lengthAdjust="spacingAndGlyphs">sesquithujene</text>
<text x="411.24" y="700" font-size="9.4" text-anchor="end" stroke="#111" stroke-width="0.22" transform="rotate(-29 411.24 700)" textLength="75.57" lengthAdjust="spacingAndGlyphs">(<tspan font-style="italic">E</tspan>)-β-caryophyllene</text>
<text x="438.96" y="700" font-size="9.4" text-anchor="end" stroke="#111" stroke-width="0.22" transform="rotate(-29 438.96 700)" textLength="39.1" lengthAdjust="spacingAndGlyphs">α-cedrene</text>
<text x="469.88" y="700" font-size="9.4" text-anchor="end" stroke="#111" stroke-width="0.22" transform="rotate(-29 469.88 700)" textLength="73.2" lengthAdjust="spacingAndGlyphs">(<tspan font-style="italic">E</tspan>)-α-bergamotene</text>
<text x="498.9" y="700" font-size="9.4" text-anchor="end" stroke="#111" stroke-width="0.22" transform="rotate(-29 498.9 700)" textLength="67.74" lengthAdjust="spacingAndGlyphs">sesquisabinene A</text>
<text x="525.12" y="700" font-size="9.4" text-anchor="end" stroke="#111" stroke-width="0.22" transform="rotate(-29 525.12 700)" textLength="60.69" lengthAdjust="spacingAndGlyphs">(<tspan font-style="italic">E</tspan>)-β-farnesene</text>
<text x="554.84" y="700" font-size="9.4" text-anchor="end" stroke="#111" stroke-width="0.22" transform="rotate(-29 554.84 700)" textLength="50.62" lengthAdjust="spacingAndGlyphs">α-curcumene</text>
<text x="580.86" y="700" font-size="9.4" text-anchor="end" stroke="#111" stroke-width="0.22" transform="rotate(-29 580.86 700)" textLength="44.69" lengthAdjust="spacingAndGlyphs">zingiberene</text>
<text x="609.58" y="700" font-size="9.4" text-anchor="end" stroke="#111" stroke-width="0.22" transform="rotate(-29 609.58 700)" textLength="82.78" lengthAdjust="spacingAndGlyphs">β-sesquiphellandrene</text>
<text x="640" y="700" font-size="9.4" text-anchor="end" stroke="#111" stroke-width="0.22" transform="rotate(-29 640 700)" textLength="49.65" lengthAdjust="spacingAndGlyphs">β-bisabolene</text>
<text x="668.72" y="700" font-size="9.4" text-anchor="end" stroke="#111" stroke-width="0.22" transform="rotate(-29 668.72 700)" textLength="63.41" lengthAdjust="spacingAndGlyphs">(<tspan font-style="italic">E</tspan>)-γ-bisabolene</text>
</svg>
</body></html>
